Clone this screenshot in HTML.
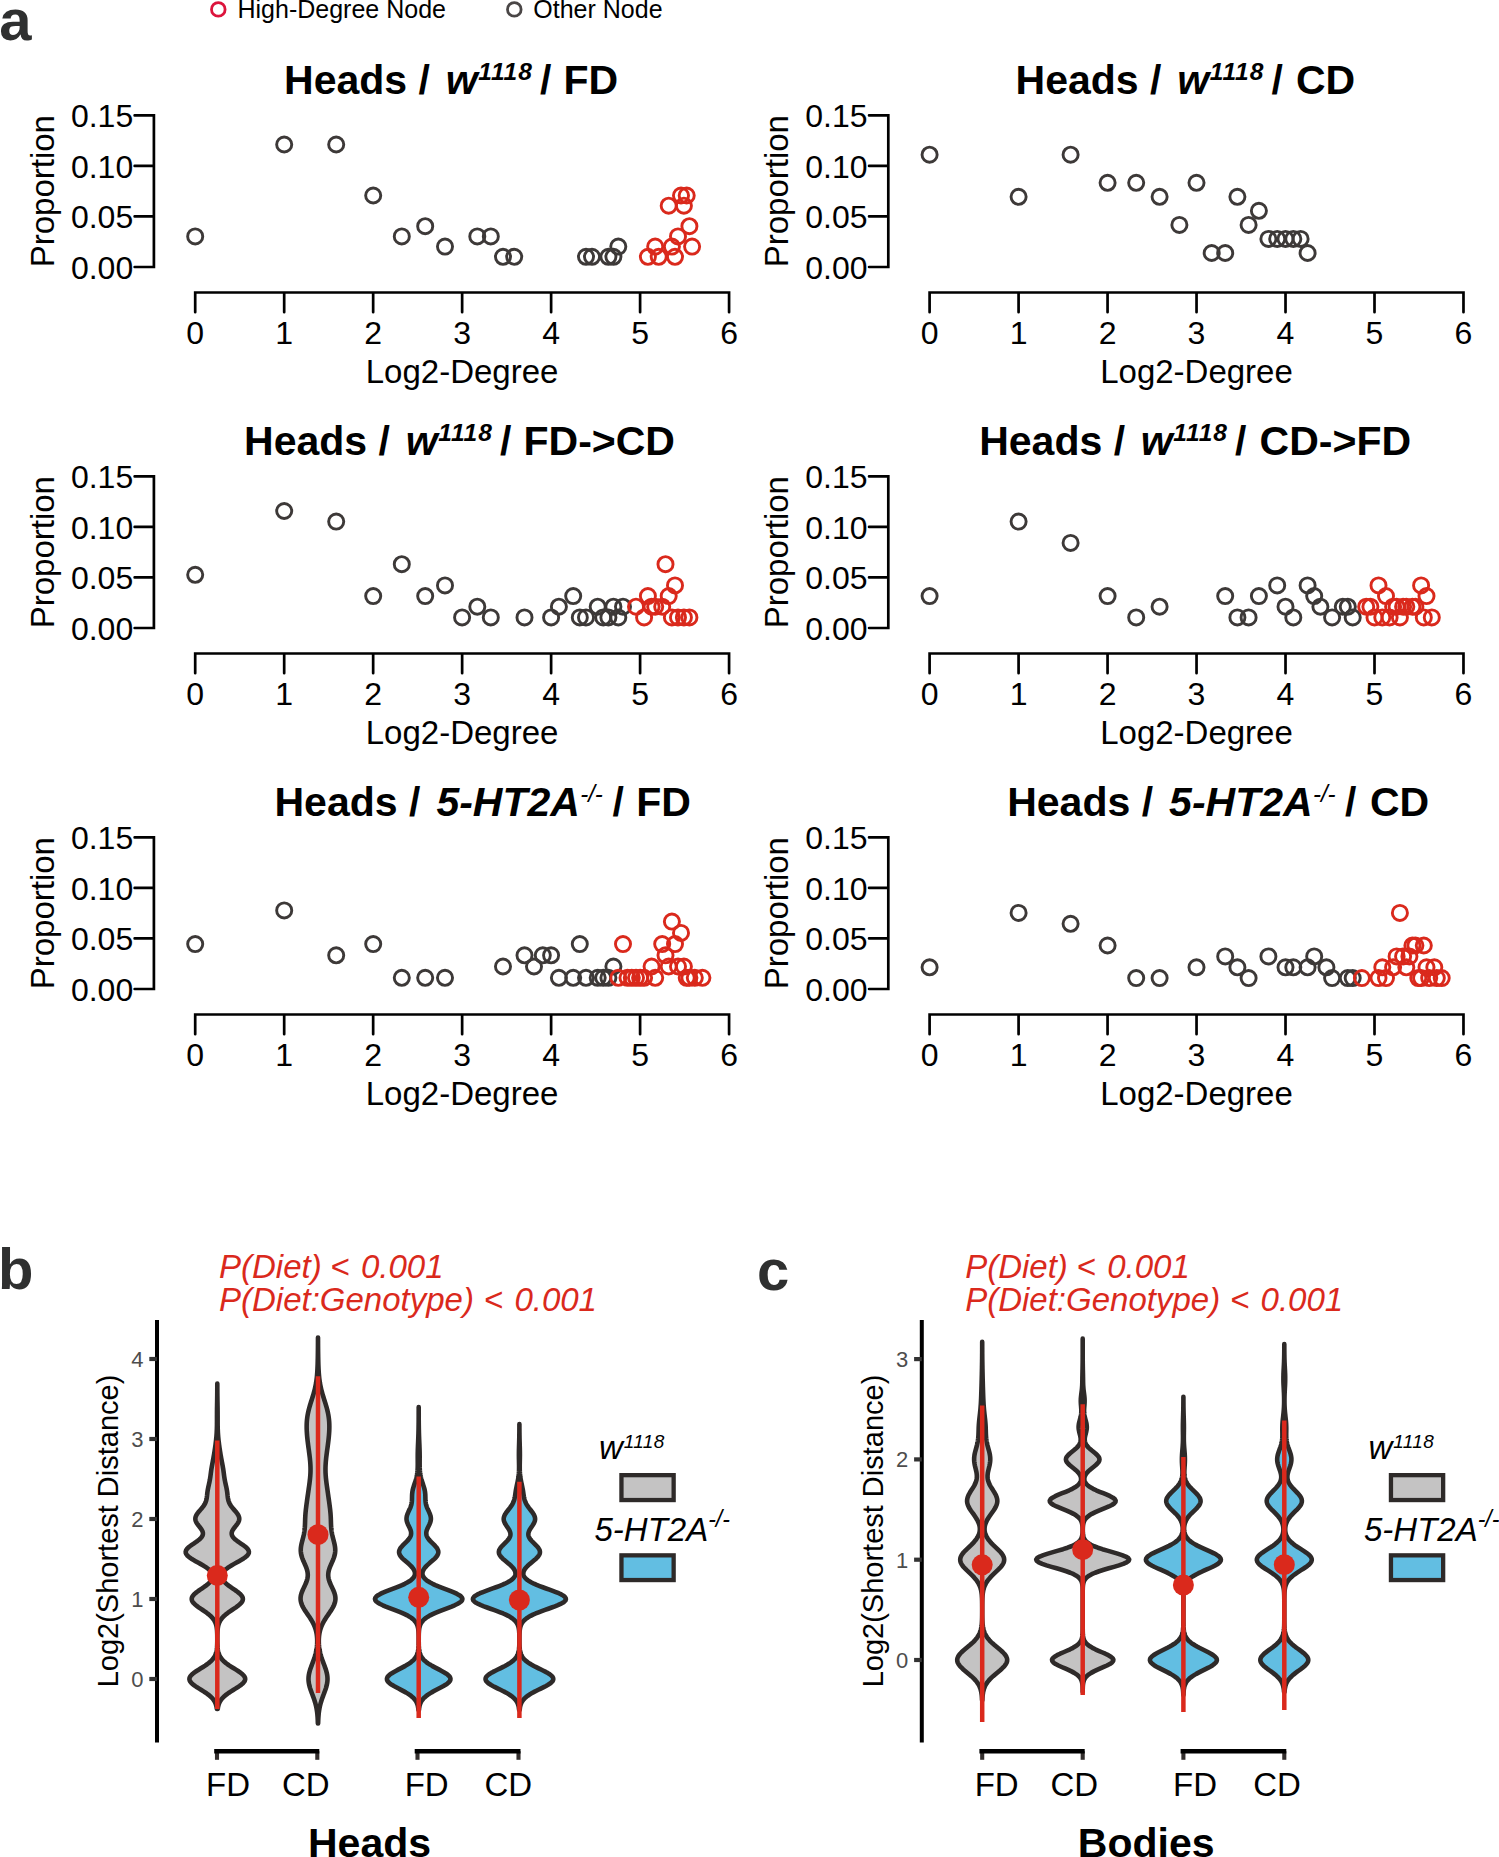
<!DOCTYPE html>
<html><head><meta charset="utf-8"><style>
html,body{margin:0;padding:0;background:#fff;}
svg{display:block;}
</style></head><body>
<svg width="1499" height="1857" viewBox="0 0 1499 1857">
<rect width="1499" height="1857" fill="#fff"/>
<g font-family='"Liberation Sans", sans-serif' fill="#000">
<path d="M134.65,115.40H153.90V267.00H134.65M134.65,216.47H153.90M134.65,165.93H153.90" fill="none" stroke="#000" stroke-width="2.7" stroke-linejoin="miter" stroke-linecap="round"/>
<text x="133.2" y="278.9" text-anchor="end" font-size="32">0.00</text>
<text x="133.2" y="228.4" text-anchor="end" font-size="32">0.05</text>
<text x="133.2" y="177.8" text-anchor="end" font-size="32">0.10</text>
<text x="133.2" y="127.3" text-anchor="end" font-size="32">0.15</text>
<text transform="translate(54.0,191.2) rotate(-90)" text-anchor="middle" font-size="33">Proportion</text>
<path d="M195.20,312.25V292.50H729.08V312.25M284.18,292.50V312.25M373.16,292.50V312.25M462.14,292.50V312.25M551.12,292.50V312.25M640.10,292.50V312.25" fill="none" stroke="#000" stroke-width="2.7" stroke-linejoin="miter" stroke-linecap="round"/>
<text x="195.2" y="344.4" text-anchor="middle" font-size="32">0</text>
<text x="284.2" y="344.4" text-anchor="middle" font-size="32">1</text>
<text x="373.2" y="344.4" text-anchor="middle" font-size="32">2</text>
<text x="462.1" y="344.4" text-anchor="middle" font-size="32">3</text>
<text x="551.1" y="344.4" text-anchor="middle" font-size="32">4</text>
<text x="640.1" y="344.4" text-anchor="middle" font-size="32">5</text>
<text x="729.1" y="344.4" text-anchor="middle" font-size="32">6</text>
<text x="462.1" y="383.0" text-anchor="middle" font-size="33">Log2-Degree</text>
<g fill="none" stroke="#3d3938" stroke-width="2.9"><circle cx="195.2" cy="236.4" r="7.55"/><circle cx="284.2" cy="144.5" r="7.55"/><circle cx="336.2" cy="144.5" r="7.55"/><circle cx="373.2" cy="195.5" r="7.55"/><circle cx="401.8" cy="236.4" r="7.55"/><circle cx="425.2" cy="226.2" r="7.55"/><circle cx="445.0" cy="246.6" r="7.55"/><circle cx="477.3" cy="236.4" r="7.55"/><circle cx="490.8" cy="236.4" r="7.55"/><circle cx="503.0" cy="256.8" r="7.55"/><circle cx="514.2" cy="256.8" r="7.55"/><circle cx="586.0" cy="256.8" r="7.55"/><circle cx="592.0" cy="256.8" r="7.55"/><circle cx="608.4" cy="256.8" r="7.55"/><circle cx="613.4" cy="256.8" r="7.55"/><circle cx="618.3" cy="246.6" r="7.55"/></g>
<g fill="none" stroke="#da291c" stroke-width="2.9"><circle cx="647.9" cy="256.8" r="7.55"/><circle cx="655.2" cy="246.6" r="7.55"/><circle cx="658.7" cy="256.8" r="7.55"/><circle cx="668.7" cy="205.7" r="7.55"/><circle cx="671.9" cy="246.6" r="7.55"/><circle cx="675.0" cy="256.8" r="7.55"/><circle cx="678.0" cy="236.4" r="7.55"/><circle cx="681.0" cy="195.5" r="7.55"/><circle cx="683.9" cy="205.7" r="7.55"/><circle cx="686.7" cy="195.5" r="7.55"/><circle cx="689.4" cy="226.2" r="7.55"/><circle cx="692.1" cy="246.6" r="7.55"/></g>
<path d="M869.05,115.40H888.30V267.00H869.05M869.05,216.47H888.30M869.05,165.93H888.30" fill="none" stroke="#000" stroke-width="2.7" stroke-linejoin="miter" stroke-linecap="round"/>
<text x="867.6" y="278.9" text-anchor="end" font-size="32">0.00</text>
<text x="867.6" y="228.4" text-anchor="end" font-size="32">0.05</text>
<text x="867.6" y="177.8" text-anchor="end" font-size="32">0.10</text>
<text x="867.6" y="127.3" text-anchor="end" font-size="32">0.15</text>
<text transform="translate(788.4,191.2) rotate(-90)" text-anchor="middle" font-size="33">Proportion</text>
<path d="M929.60,312.25V292.50H1463.48V312.25M1018.58,292.50V312.25M1107.56,292.50V312.25M1196.54,292.50V312.25M1285.52,292.50V312.25M1374.50,292.50V312.25" fill="none" stroke="#000" stroke-width="2.7" stroke-linejoin="miter" stroke-linecap="round"/>
<text x="929.6" y="344.4" text-anchor="middle" font-size="32">0</text>
<text x="1018.6" y="344.4" text-anchor="middle" font-size="32">1</text>
<text x="1107.6" y="344.4" text-anchor="middle" font-size="32">2</text>
<text x="1196.5" y="344.4" text-anchor="middle" font-size="32">3</text>
<text x="1285.5" y="344.4" text-anchor="middle" font-size="32">4</text>
<text x="1374.5" y="344.4" text-anchor="middle" font-size="32">5</text>
<text x="1463.5" y="344.4" text-anchor="middle" font-size="32">6</text>
<text x="1196.5" y="383.0" text-anchor="middle" font-size="33">Log2-Degree</text>
<g fill="none" stroke="#3d3938" stroke-width="2.9"><circle cx="929.6" cy="154.7" r="7.55"/><circle cx="1018.6" cy="196.8" r="7.55"/><circle cx="1070.6" cy="154.7" r="7.55"/><circle cx="1107.6" cy="182.8" r="7.55"/><circle cx="1136.2" cy="182.8" r="7.55"/><circle cx="1159.6" cy="196.8" r="7.55"/><circle cx="1179.4" cy="224.9" r="7.55"/><circle cx="1196.5" cy="182.8" r="7.55"/><circle cx="1211.7" cy="253.0" r="7.55"/><circle cx="1225.2" cy="253.0" r="7.55"/><circle cx="1237.4" cy="196.8" r="7.55"/><circle cx="1248.6" cy="224.9" r="7.55"/><circle cx="1258.9" cy="210.8" r="7.55"/><circle cx="1268.4" cy="238.9" r="7.55"/><circle cx="1277.2" cy="238.9" r="7.55"/><circle cx="1285.5" cy="238.9" r="7.55"/><circle cx="1293.3" cy="238.9" r="7.55"/><circle cx="1300.6" cy="238.9" r="7.55"/><circle cx="1307.6" cy="253.0" r="7.55"/></g>
<path d="M134.65,476.39H153.90V628.00H134.65M134.65,577.47H153.90M134.65,526.93H153.90" fill="none" stroke="#000" stroke-width="2.7" stroke-linejoin="miter" stroke-linecap="round"/>
<text x="133.2" y="639.9" text-anchor="end" font-size="32">0.00</text>
<text x="133.2" y="589.4" text-anchor="end" font-size="32">0.05</text>
<text x="133.2" y="538.8" text-anchor="end" font-size="32">0.10</text>
<text x="133.2" y="488.3" text-anchor="end" font-size="32">0.15</text>
<text transform="translate(54.0,552.2) rotate(-90)" text-anchor="middle" font-size="33">Proportion</text>
<path d="M195.20,673.25V653.50H729.08V673.25M284.18,653.50V673.25M373.16,653.50V673.25M462.14,653.50V673.25M551.12,653.50V673.25M640.10,653.50V673.25" fill="none" stroke="#000" stroke-width="2.7" stroke-linejoin="miter" stroke-linecap="round"/>
<text x="195.2" y="705.4" text-anchor="middle" font-size="32">0</text>
<text x="284.2" y="705.4" text-anchor="middle" font-size="32">1</text>
<text x="373.2" y="705.4" text-anchor="middle" font-size="32">2</text>
<text x="462.1" y="705.4" text-anchor="middle" font-size="32">3</text>
<text x="551.1" y="705.4" text-anchor="middle" font-size="32">4</text>
<text x="640.1" y="705.4" text-anchor="middle" font-size="32">5</text>
<text x="729.1" y="705.4" text-anchor="middle" font-size="32">6</text>
<text x="462.1" y="744.0" text-anchor="middle" font-size="33">Log2-Degree</text>
<g fill="none" stroke="#3d3938" stroke-width="2.9"><circle cx="195.2" cy="574.8" r="7.55"/><circle cx="284.2" cy="511.0" r="7.55"/><circle cx="336.2" cy="521.6" r="7.55"/><circle cx="373.2" cy="596.1" r="7.55"/><circle cx="401.8" cy="564.2" r="7.55"/><circle cx="425.2" cy="596.1" r="7.55"/><circle cx="445.0" cy="585.4" r="7.55"/><circle cx="462.1" cy="617.4" r="7.55"/><circle cx="477.3" cy="606.7" r="7.55"/><circle cx="490.8" cy="617.4" r="7.55"/><circle cx="524.5" cy="617.4" r="7.55"/><circle cx="551.1" cy="617.4" r="7.55"/><circle cx="558.9" cy="606.7" r="7.55"/><circle cx="573.2" cy="596.1" r="7.55"/><circle cx="579.8" cy="617.4" r="7.55"/><circle cx="586.0" cy="617.4" r="7.55"/><circle cx="597.7" cy="606.7" r="7.55"/><circle cx="603.2" cy="617.4" r="7.55"/><circle cx="608.4" cy="617.4" r="7.55"/><circle cx="613.4" cy="606.7" r="7.55"/><circle cx="618.3" cy="617.4" r="7.55"/><circle cx="623.0" cy="606.7" r="7.55"/></g>
<g fill="none" stroke="#da291c" stroke-width="2.9"><circle cx="636.0" cy="606.7" r="7.55"/><circle cx="644.1" cy="617.4" r="7.55"/><circle cx="647.9" cy="596.1" r="7.55"/><circle cx="651.6" cy="606.7" r="7.55"/><circle cx="655.2" cy="606.7" r="7.55"/><circle cx="662.2" cy="606.7" r="7.55"/><circle cx="665.5" cy="564.2" r="7.55"/><circle cx="668.7" cy="596.1" r="7.55"/><circle cx="671.9" cy="617.4" r="7.55"/><circle cx="675.0" cy="585.4" r="7.55"/><circle cx="678.0" cy="617.4" r="7.55"/><circle cx="683.9" cy="617.4" r="7.55"/><circle cx="689.4" cy="617.4" r="7.55"/></g>
<path d="M869.05,476.39H888.30V628.00H869.05M869.05,577.47H888.30M869.05,526.93H888.30" fill="none" stroke="#000" stroke-width="2.7" stroke-linejoin="miter" stroke-linecap="round"/>
<text x="867.6" y="639.9" text-anchor="end" font-size="32">0.00</text>
<text x="867.6" y="589.4" text-anchor="end" font-size="32">0.05</text>
<text x="867.6" y="538.8" text-anchor="end" font-size="32">0.10</text>
<text x="867.6" y="488.3" text-anchor="end" font-size="32">0.15</text>
<text transform="translate(788.4,552.2) rotate(-90)" text-anchor="middle" font-size="33">Proportion</text>
<path d="M929.60,673.25V653.50H1463.48V673.25M1018.58,653.50V673.25M1107.56,653.50V673.25M1196.54,653.50V673.25M1285.52,653.50V673.25M1374.50,653.50V673.25" fill="none" stroke="#000" stroke-width="2.7" stroke-linejoin="miter" stroke-linecap="round"/>
<text x="929.6" y="705.4" text-anchor="middle" font-size="32">0</text>
<text x="1018.6" y="705.4" text-anchor="middle" font-size="32">1</text>
<text x="1107.6" y="705.4" text-anchor="middle" font-size="32">2</text>
<text x="1196.5" y="705.4" text-anchor="middle" font-size="32">3</text>
<text x="1285.5" y="705.4" text-anchor="middle" font-size="32">4</text>
<text x="1374.5" y="705.4" text-anchor="middle" font-size="32">5</text>
<text x="1463.5" y="705.4" text-anchor="middle" font-size="32">6</text>
<text x="1196.5" y="744.0" text-anchor="middle" font-size="33">Log2-Degree</text>
<g fill="none" stroke="#3d3938" stroke-width="2.9"><circle cx="929.6" cy="596.1" r="7.55"/><circle cx="1018.6" cy="521.6" r="7.55"/><circle cx="1070.6" cy="542.9" r="7.55"/><circle cx="1107.6" cy="596.1" r="7.55"/><circle cx="1136.2" cy="617.4" r="7.55"/><circle cx="1159.6" cy="606.7" r="7.55"/><circle cx="1225.2" cy="596.1" r="7.55"/><circle cx="1237.4" cy="617.4" r="7.55"/><circle cx="1248.6" cy="617.4" r="7.55"/><circle cx="1258.9" cy="596.1" r="7.55"/><circle cx="1277.2" cy="585.4" r="7.55"/><circle cx="1285.5" cy="606.7" r="7.55"/><circle cx="1293.3" cy="617.4" r="7.55"/><circle cx="1307.6" cy="585.4" r="7.55"/><circle cx="1314.2" cy="596.1" r="7.55"/><circle cx="1320.4" cy="606.7" r="7.55"/><circle cx="1332.1" cy="617.4" r="7.55"/><circle cx="1342.8" cy="606.7" r="7.55"/><circle cx="1347.8" cy="606.7" r="7.55"/><circle cx="1352.7" cy="617.4" r="7.55"/></g>
<g fill="none" stroke="#da291c" stroke-width="2.9"><circle cx="1366.2" cy="606.7" r="7.55"/><circle cx="1370.4" cy="606.7" r="7.55"/><circle cx="1374.5" cy="617.4" r="7.55"/><circle cx="1378.5" cy="585.4" r="7.55"/><circle cx="1382.3" cy="617.4" r="7.55"/><circle cx="1386.0" cy="596.1" r="7.55"/><circle cx="1389.6" cy="617.4" r="7.55"/><circle cx="1393.1" cy="606.7" r="7.55"/><circle cx="1396.6" cy="606.7" r="7.55"/><circle cx="1399.9" cy="617.4" r="7.55"/><circle cx="1403.1" cy="606.7" r="7.55"/><circle cx="1406.3" cy="606.7" r="7.55"/><circle cx="1412.4" cy="606.7" r="7.55"/><circle cx="1415.4" cy="606.7" r="7.55"/><circle cx="1421.1" cy="585.4" r="7.55"/><circle cx="1423.8" cy="617.4" r="7.55"/><circle cx="1426.5" cy="596.1" r="7.55"/><circle cx="1431.8" cy="617.4" r="7.55"/></g>
<path d="M134.65,837.39H153.90V989.00H134.65M134.65,938.47H153.90M134.65,887.93H153.90" fill="none" stroke="#000" stroke-width="2.7" stroke-linejoin="miter" stroke-linecap="round"/>
<text x="133.2" y="1000.9" text-anchor="end" font-size="32">0.00</text>
<text x="133.2" y="950.4" text-anchor="end" font-size="32">0.05</text>
<text x="133.2" y="899.8" text-anchor="end" font-size="32">0.10</text>
<text x="133.2" y="849.3" text-anchor="end" font-size="32">0.15</text>
<text transform="translate(54.0,913.2) rotate(-90)" text-anchor="middle" font-size="33">Proportion</text>
<path d="M195.20,1034.25V1014.50H729.08V1034.25M284.18,1014.50V1034.25M373.16,1014.50V1034.25M462.14,1014.50V1034.25M551.12,1014.50V1034.25M640.10,1014.50V1034.25" fill="none" stroke="#000" stroke-width="2.7" stroke-linejoin="miter" stroke-linecap="round"/>
<text x="195.2" y="1066.4" text-anchor="middle" font-size="32">0</text>
<text x="284.2" y="1066.4" text-anchor="middle" font-size="32">1</text>
<text x="373.2" y="1066.4" text-anchor="middle" font-size="32">2</text>
<text x="462.1" y="1066.4" text-anchor="middle" font-size="32">3</text>
<text x="551.1" y="1066.4" text-anchor="middle" font-size="32">4</text>
<text x="640.1" y="1066.4" text-anchor="middle" font-size="32">5</text>
<text x="729.1" y="1066.4" text-anchor="middle" font-size="32">6</text>
<text x="462.1" y="1105.0" text-anchor="middle" font-size="33">Log2-Degree</text>
<g fill="none" stroke="#3d3938" stroke-width="2.9"><circle cx="195.2" cy="944.1" r="7.55"/><circle cx="284.2" cy="910.4" r="7.55"/><circle cx="336.2" cy="955.3" r="7.55"/><circle cx="373.2" cy="944.1" r="7.55"/><circle cx="401.8" cy="977.8" r="7.55"/><circle cx="425.2" cy="977.8" r="7.55"/><circle cx="445.0" cy="977.8" r="7.55"/><circle cx="503.0" cy="966.5" r="7.55"/><circle cx="524.5" cy="955.3" r="7.55"/><circle cx="534.0" cy="966.5" r="7.55"/><circle cx="542.8" cy="955.3" r="7.55"/><circle cx="551.1" cy="955.3" r="7.55"/><circle cx="558.9" cy="977.8" r="7.55"/><circle cx="573.2" cy="977.8" r="7.55"/><circle cx="579.8" cy="944.1" r="7.55"/><circle cx="586.0" cy="977.8" r="7.55"/><circle cx="597.7" cy="977.8" r="7.55"/><circle cx="603.2" cy="977.8" r="7.55"/><circle cx="608.4" cy="977.8" r="7.55"/><circle cx="613.4" cy="966.5" r="7.55"/></g>
<g fill="none" stroke="#da291c" stroke-width="2.9"><circle cx="618.3" cy="977.8" r="7.55"/><circle cx="623.0" cy="944.1" r="7.55"/><circle cx="627.5" cy="977.8" r="7.55"/><circle cx="631.8" cy="977.8" r="7.55"/><circle cx="636.0" cy="977.8" r="7.55"/><circle cx="640.1" cy="977.8" r="7.55"/><circle cx="644.1" cy="977.8" r="7.55"/><circle cx="651.6" cy="966.5" r="7.55"/><circle cx="655.2" cy="977.8" r="7.55"/><circle cx="662.2" cy="944.1" r="7.55"/><circle cx="665.5" cy="955.3" r="7.55"/><circle cx="668.7" cy="966.5" r="7.55"/><circle cx="671.9" cy="921.6" r="7.55"/><circle cx="675.0" cy="944.1" r="7.55"/><circle cx="678.0" cy="966.5" r="7.55"/><circle cx="681.0" cy="932.9" r="7.55"/><circle cx="683.9" cy="966.5" r="7.55"/><circle cx="686.7" cy="977.8" r="7.55"/><circle cx="689.4" cy="977.8" r="7.55"/><circle cx="694.8" cy="977.8" r="7.55"/><circle cx="702.4" cy="977.8" r="7.55"/></g>
<path d="M869.05,837.39H888.30V989.00H869.05M869.05,938.47H888.30M869.05,887.93H888.30" fill="none" stroke="#000" stroke-width="2.7" stroke-linejoin="miter" stroke-linecap="round"/>
<text x="867.6" y="1000.9" text-anchor="end" font-size="32">0.00</text>
<text x="867.6" y="950.4" text-anchor="end" font-size="32">0.05</text>
<text x="867.6" y="899.8" text-anchor="end" font-size="32">0.10</text>
<text x="867.6" y="849.3" text-anchor="end" font-size="32">0.15</text>
<text transform="translate(788.4,913.2) rotate(-90)" text-anchor="middle" font-size="33">Proportion</text>
<path d="M929.60,1034.25V1014.50H1463.48V1034.25M1018.58,1014.50V1034.25M1107.56,1014.50V1034.25M1196.54,1014.50V1034.25M1285.52,1014.50V1034.25M1374.50,1014.50V1034.25" fill="none" stroke="#000" stroke-width="2.7" stroke-linejoin="miter" stroke-linecap="round"/>
<text x="929.6" y="1066.4" text-anchor="middle" font-size="32">0</text>
<text x="1018.6" y="1066.4" text-anchor="middle" font-size="32">1</text>
<text x="1107.6" y="1066.4" text-anchor="middle" font-size="32">2</text>
<text x="1196.5" y="1066.4" text-anchor="middle" font-size="32">3</text>
<text x="1285.5" y="1066.4" text-anchor="middle" font-size="32">4</text>
<text x="1374.5" y="1066.4" text-anchor="middle" font-size="32">5</text>
<text x="1463.5" y="1066.4" text-anchor="middle" font-size="32">6</text>
<text x="1196.5" y="1105.0" text-anchor="middle" font-size="33">Log2-Degree</text>
<g fill="none" stroke="#3d3938" stroke-width="2.9"><circle cx="929.6" cy="967.3" r="7.55"/><circle cx="1018.6" cy="912.9" r="7.55"/><circle cx="1070.6" cy="923.8" r="7.55"/><circle cx="1107.6" cy="945.5" r="7.55"/><circle cx="1136.2" cy="978.1" r="7.55"/><circle cx="1159.6" cy="978.1" r="7.55"/><circle cx="1196.5" cy="967.3" r="7.55"/><circle cx="1225.2" cy="956.4" r="7.55"/><circle cx="1237.4" cy="967.3" r="7.55"/><circle cx="1248.6" cy="978.1" r="7.55"/><circle cx="1268.4" cy="956.4" r="7.55"/><circle cx="1285.5" cy="967.3" r="7.55"/><circle cx="1293.3" cy="967.3" r="7.55"/><circle cx="1307.6" cy="967.3" r="7.55"/><circle cx="1314.2" cy="956.4" r="7.55"/><circle cx="1326.4" cy="967.3" r="7.55"/><circle cx="1332.1" cy="978.1" r="7.55"/><circle cx="1347.8" cy="978.1" r="7.55"/><circle cx="1352.7" cy="978.1" r="7.55"/></g>
<g fill="none" stroke="#da291c" stroke-width="2.9"><circle cx="1361.9" cy="978.1" r="7.55"/><circle cx="1378.5" cy="978.1" r="7.55"/><circle cx="1382.3" cy="967.3" r="7.55"/><circle cx="1386.0" cy="978.1" r="7.55"/><circle cx="1393.1" cy="967.3" r="7.55"/><circle cx="1396.6" cy="956.4" r="7.55"/><circle cx="1399.9" cy="912.9" r="7.55"/><circle cx="1403.1" cy="956.4" r="7.55"/><circle cx="1406.3" cy="967.3" r="7.55"/><circle cx="1409.4" cy="956.4" r="7.55"/><circle cx="1412.4" cy="945.5" r="7.55"/><circle cx="1415.4" cy="945.5" r="7.55"/><circle cx="1418.3" cy="978.1" r="7.55"/><circle cx="1421.1" cy="978.1" r="7.55"/><circle cx="1423.8" cy="945.5" r="7.55"/><circle cx="1426.5" cy="967.3" r="7.55"/><circle cx="1429.2" cy="978.1" r="7.55"/><circle cx="1434.3" cy="967.3" r="7.55"/><circle cx="1436.8" cy="978.1" r="7.55"/><circle cx="1441.7" cy="978.1" r="7.55"/></g>
<text y="93.8" font-size="41" font-weight="bold"><tspan x="284.1">Heads</tspan><tspan x="418.6">/</tspan><tspan x="445.7" font-style="italic">w</tspan><tspan x="478.2" dy="-14" font-style="italic" font-size="24.5" letter-spacing="0.9">1118</tspan><tspan x="539.9" dy="14">/</tspan><tspan x="563.5">FD</tspan></text>
<text y="93.8" font-size="41" font-weight="bold"><tspan x="1015.6">Heads</tspan><tspan x="1150.1">/</tspan><tspan x="1177.2" font-style="italic">w</tspan><tspan x="1209.7" dy="-14" font-style="italic" font-size="24.5" letter-spacing="0.9">1118</tspan><tspan x="1271.4" dy="14">/</tspan><tspan x="1296.0">CD</tspan></text>
<text y="454.8" font-size="41" font-weight="bold"><tspan x="244.1">Heads</tspan><tspan x="378.6">/</tspan><tspan x="405.7" font-style="italic">w</tspan><tspan x="438.2" dy="-14" font-style="italic" font-size="24.5" letter-spacing="0.9">1118</tspan><tspan x="499.9" dy="14">/</tspan><tspan x="523.5">FD-&gt;CD</tspan></text>
<text y="454.8" font-size="41" font-weight="bold"><tspan x="979.2">Heads</tspan><tspan x="1113.7">/</tspan><tspan x="1140.8" font-style="italic">w</tspan><tspan x="1173.3" dy="-14" font-style="italic" font-size="24.5" letter-spacing="0.9">1118</tspan><tspan x="1235.0" dy="14">/</tspan><tspan x="1259.6">CD-&gt;FD</tspan></text>
<text y="815.8" font-size="41" font-weight="bold"><tspan x="274.5">Heads</tspan><tspan x="409.0">/</tspan><tspan x="436.4" font-style="italic">5-HT2A</tspan><tspan x="580.2" dy="-14" font-style="italic" font-weight="normal" font-size="24">-/-</tspan><tspan x="612.4" dy="14">/</tspan><tspan x="636.3">FD</tspan></text>
<text y="815.8" font-size="41" font-weight="bold"><tspan x="1007.2">Heads</tspan><tspan x="1141.7">/</tspan><tspan x="1169.1" font-style="italic">5-HT2A</tspan><tspan x="1312.9" dy="-14" font-style="italic" font-weight="normal" font-size="24">-/-</tspan><tspan x="1345.1" dy="14">/</tspan><tspan x="1370.0">CD</tspan></text>
<circle cx="218.3" cy="9.4" r="6.8" fill="none" stroke="#dc143c" stroke-width="2.8"/>
<text x="237.5" y="17.8" font-size="25">High-Degree Node</text>
<circle cx="514.3" cy="9.4" r="6.8" fill="none" stroke="#4a4646" stroke-width="2.8"/>
<text x="533.3" y="17.8" font-size="25">Other Node</text>
<text x="-0.8" y="40.2" font-size="58" font-weight="bold" fill="#2f3030">a</text>
<text x="-2" y="1289" font-size="58" font-weight="bold" fill="#2f3030">b</text>
<text x="757" y="1290" font-size="58" font-weight="bold" fill="#2f3030">c</text>
</g>
<g font-family='"Liberation Sans", sans-serif' fill="#000">
<line x1="157.0" y1="1320" x2="157.0" y2="1742.5" stroke="#000" stroke-width="4"/>
<line x1="149.3" y1="1679.0" x2="157.0" y2="1679.0" stroke="#333" stroke-width="4.2"/>
<text x="143.5" y="1687.0" text-anchor="end" font-size="22" fill="#4d4d4d">0</text>
<line x1="149.3" y1="1599.0" x2="157.0" y2="1599.0" stroke="#333" stroke-width="4.2"/>
<text x="143.5" y="1607.0" text-anchor="end" font-size="22" fill="#4d4d4d">1</text>
<line x1="149.3" y1="1519.0" x2="157.0" y2="1519.0" stroke="#333" stroke-width="4.2"/>
<text x="143.5" y="1527.0" text-anchor="end" font-size="22" fill="#4d4d4d">2</text>
<line x1="149.3" y1="1439.0" x2="157.0" y2="1439.0" stroke="#333" stroke-width="4.2"/>
<text x="143.5" y="1447.0" text-anchor="end" font-size="22" fill="#4d4d4d">3</text>
<line x1="149.3" y1="1359.0" x2="157.0" y2="1359.0" stroke="#333" stroke-width="4.2"/>
<text x="143.5" y="1367.0" text-anchor="end" font-size="22" fill="#4d4d4d">4</text>
<text transform="translate(117.7,1531) rotate(-90)" text-anchor="middle" font-size="29">Log2(Shortest Distance)</text>
<path d="M217.30,1383.48 217.29,1384.84 217.29,1386.19 217.29,1387.55 217.28,1388.91 217.27,1390.26 217.27,1391.62 217.26,1392.97 217.24,1394.33 217.23,1395.69 217.21,1397.04 217.19,1398.40 217.17,1399.76 217.15,1401.11 217.12,1402.47 217.10,1403.83 217.08,1405.18 217.05,1406.54 217.03,1407.89 217.01,1409.25 217.00,1410.61 216.99,1411.96 216.98,1413.32 216.98,1414.68 216.97,1416.03 216.97,1417.39 216.97,1418.74 216.97,1420.10 216.97,1421.46 216.96,1422.81 216.95,1424.17 216.94,1425.53 216.91,1426.88 216.87,1428.24 216.83,1429.60 216.77,1430.95 216.71,1432.31 216.63,1433.66 216.54,1435.02 216.43,1436.38 216.31,1437.73 216.18,1439.09 216.04,1440.45 215.88,1441.80 215.71,1443.16 215.54,1444.52 215.35,1445.87 215.16,1447.23 214.96,1448.58 214.76,1449.94 214.55,1451.30 214.33,1452.65 214.11,1454.01 213.89,1455.37 213.65,1456.72 213.41,1458.08 213.16,1459.43 212.91,1460.79 212.65,1462.15 212.39,1463.50 212.13,1464.86 211.88,1466.22 211.65,1467.57 211.42,1468.93 211.22,1470.29 211.03,1471.64 210.84,1473.00 210.67,1474.35 210.49,1475.71 210.30,1477.07 210.09,1478.42 209.87,1479.78 209.61,1481.14 209.34,1482.49 209.04,1483.85 208.74,1485.20 208.43,1486.56 208.14,1487.92 207.88,1489.27 207.64,1490.63 207.44,1491.99 207.27,1493.34 207.12,1494.70 206.98,1496.06 206.81,1497.41 206.59,1498.77 206.30,1500.12 205.89,1501.48 205.35,1502.84 204.66,1504.19 203.83,1505.55 202.85,1506.91 201.76,1508.26 200.61,1509.62 199.43,1510.98 198.29,1512.33 197.27,1513.69 196.41,1515.04 195.77,1516.40 195.40,1517.76 195.32,1519.11 195.54,1520.47 196.04,1521.83 196.79,1523.18 197.72,1524.54 198.78,1525.89 199.87,1527.25 200.91,1528.61 201.81,1529.96 202.49,1531.32 202.87,1532.68 202.92,1534.03 202.59,1535.39 201.87,1536.75 200.77,1538.10 199.34,1539.46 197.63,1540.81 195.73,1542.17 193.73,1543.53 191.74,1544.88 189.88,1546.24 188.26,1547.60 186.96,1548.95 186.09,1550.31 185.69,1551.67 185.79,1553.02 186.41,1554.38 187.52,1555.73 189.06,1557.09 190.97,1558.45 193.15,1559.80 195.52,1561.16 197.98,1562.52 200.43,1563.87 202.79,1565.23 204.99,1566.59 206.98,1567.94 208.71,1569.30 210.15,1570.65 211.28,1572.01 212.10,1573.37 212.60,1574.72 212.78,1576.08 212.66,1577.44 212.22,1578.79 211.50,1580.15 210.49,1581.50 209.21,1582.86 207.70,1584.22 205.99,1585.57 204.13,1586.93 202.16,1588.29 200.17,1589.64 198.23,1591.00 196.41,1592.36 194.79,1593.71 193.46,1595.07 192.47,1596.42 191.87,1597.78 191.70,1599.14 191.96,1600.49 192.64,1601.85 193.71,1603.21 195.11,1604.56 196.78,1605.92 198.65,1607.28 200.63,1608.63 202.65,1609.99 204.64,1611.34 206.55,1612.70 208.32,1614.06 209.93,1615.41 211.35,1616.77 212.58,1618.13 213.62,1619.48 214.48,1620.84 215.17,1622.19 215.72,1623.55 216.15,1624.91 216.48,1626.26 216.72,1627.62 216.90,1628.98 217.03,1630.33 217.12,1631.69 217.18,1633.05 217.22,1634.40 217.25,1635.76 217.26,1637.11 217.27,1638.47 217.27,1639.83 217.26,1641.18 217.24,1642.54 217.20,1643.90 217.15,1645.25 217.08,1646.61 216.97,1647.97 216.82,1649.32 216.62,1650.68 216.33,1652.03 215.95,1653.39 215.46,1654.75 214.83,1656.10 214.03,1657.46 213.06,1658.82 211.88,1660.17 210.50,1661.53 208.90,1662.88 207.11,1664.24 205.14,1665.60 203.04,1666.95 200.85,1668.31 198.65,1669.67 196.51,1671.02 194.52,1672.38 192.76,1673.74 191.30,1675.09 190.23,1676.45 189.58,1677.80 189.40,1679.16 189.70,1680.52 190.44,1681.87 191.61,1683.23 193.15,1684.59 194.97,1685.94 197.01,1687.30 199.17,1688.65 201.37,1690.01 203.54,1691.37 205.62,1692.72 207.55,1694.08 209.30,1695.44 210.84,1696.79 212.18,1698.15 213.31,1699.51 214.24,1700.86 214.99,1702.22 215.59,1703.57 216.05,1704.93 216.41,1706.29 216.67,1707.64 216.86,1709.00 217.74,1709.00 217.93,1707.64 218.19,1706.29 218.55,1704.93 219.01,1703.57 219.61,1702.22 220.36,1700.86 221.29,1699.51 222.42,1698.15 223.76,1696.79 225.30,1695.44 227.05,1694.08 228.98,1692.72 231.06,1691.37 233.23,1690.01 235.43,1688.65 237.59,1687.30 239.63,1685.94 241.45,1684.59 242.99,1683.23 244.16,1681.87 244.90,1680.52 245.20,1679.16 245.02,1677.80 244.37,1676.45 243.30,1675.09 241.84,1673.74 240.08,1672.38 238.09,1671.02 235.95,1669.67 233.75,1668.31 231.56,1666.95 229.46,1665.60 227.49,1664.24 225.70,1662.88 224.10,1661.53 222.72,1660.17 221.54,1658.82 220.57,1657.46 219.77,1656.10 219.14,1654.75 218.65,1653.39 218.27,1652.03 217.98,1650.68 217.78,1649.32 217.63,1647.97 217.52,1646.61 217.45,1645.25 217.40,1643.90 217.36,1642.54 217.34,1641.18 217.33,1639.83 217.33,1638.47 217.34,1637.11 217.35,1635.76 217.38,1634.40 217.42,1633.05 217.48,1631.69 217.57,1630.33 217.70,1628.98 217.88,1627.62 218.12,1626.26 218.45,1624.91 218.88,1623.55 219.43,1622.19 220.12,1620.84 220.98,1619.48 222.02,1618.13 223.25,1616.77 224.67,1615.41 226.28,1614.06 228.05,1612.70 229.96,1611.34 231.95,1609.99 233.97,1608.63 235.95,1607.28 237.82,1605.92 239.49,1604.56 240.89,1603.21 241.96,1601.85 242.64,1600.49 242.90,1599.14 242.73,1597.78 242.13,1596.42 241.14,1595.07 239.81,1593.71 238.19,1592.36 236.37,1591.00 234.43,1589.64 232.44,1588.29 230.47,1586.93 228.61,1585.57 226.90,1584.22 225.39,1582.86 224.11,1581.50 223.10,1580.15 222.38,1578.79 221.94,1577.44 221.82,1576.08 222.00,1574.72 222.50,1573.37 223.32,1572.01 224.45,1570.65 225.89,1569.30 227.62,1567.94 229.61,1566.59 231.81,1565.23 234.17,1563.87 236.62,1562.52 239.08,1561.16 241.45,1559.80 243.63,1558.45 245.54,1557.09 247.08,1555.73 248.19,1554.38 248.81,1553.02 248.91,1551.67 248.51,1550.31 247.64,1548.95 246.34,1547.60 244.72,1546.24 242.86,1544.88 240.87,1543.53 238.87,1542.17 236.97,1540.81 235.26,1539.46 233.83,1538.10 232.73,1536.75 232.01,1535.39 231.68,1534.03 231.73,1532.68 232.11,1531.32 232.79,1529.96 233.69,1528.61 234.73,1527.25 235.82,1525.89 236.88,1524.54 237.81,1523.18 238.56,1521.83 239.06,1520.47 239.28,1519.11 239.20,1517.76 238.83,1516.40 238.19,1515.04 237.33,1513.69 236.31,1512.33 235.17,1510.98 233.99,1509.62 232.84,1508.26 231.75,1506.91 230.77,1505.55 229.94,1504.19 229.25,1502.84 228.71,1501.48 228.30,1500.12 228.01,1498.77 227.79,1497.41 227.62,1496.06 227.48,1494.70 227.33,1493.34 227.16,1491.99 226.96,1490.63 226.72,1489.27 226.46,1487.92 226.17,1486.56 225.86,1485.20 225.56,1483.85 225.26,1482.49 224.99,1481.14 224.73,1479.78 224.51,1478.42 224.30,1477.07 224.11,1475.71 223.93,1474.35 223.76,1473.00 223.57,1471.64 223.38,1470.29 223.18,1468.93 222.95,1467.57 222.72,1466.22 222.47,1464.86 222.21,1463.50 221.95,1462.15 221.69,1460.79 221.44,1459.43 221.19,1458.08 220.95,1456.72 220.71,1455.37 220.49,1454.01 220.27,1452.65 220.05,1451.30 219.84,1449.94 219.64,1448.58 219.44,1447.23 219.25,1445.87 219.06,1444.52 218.89,1443.16 218.72,1441.80 218.56,1440.45 218.42,1439.09 218.29,1437.73 218.17,1436.38 218.06,1435.02 217.97,1433.66 217.89,1432.31 217.83,1430.95 217.77,1429.60 217.73,1428.24 217.69,1426.88 217.66,1425.53 217.65,1424.17 217.64,1422.81 217.63,1421.46 217.63,1420.10 217.63,1418.74 217.63,1417.39 217.63,1416.03 217.62,1414.68 217.62,1413.32 217.61,1411.96 217.60,1410.61 217.59,1409.25 217.57,1407.89 217.55,1406.54 217.52,1405.18 217.50,1403.83 217.48,1402.47 217.45,1401.11 217.43,1399.76 217.41,1398.40 217.39,1397.04 217.37,1395.69 217.36,1394.33 217.34,1392.97 217.33,1391.62 217.33,1390.26 217.32,1388.91 217.31,1387.55 217.31,1386.19 217.31,1384.84 217.30,1383.48Z" fill="#c4c3c3" stroke="#2e2a29" stroke-width="4.6" stroke-linejoin="round"/>
<line x1="217.3" y1="1440.5" x2="217.3" y2="1709.0" stroke="#da291c" stroke-width="4.5"/>
<circle cx="217.3" cy="1575.4" r="10.5" fill="#da291c"/>
<path d="M317.98,1337.48 317.98,1339.09 317.97,1340.70 317.97,1342.31 317.96,1343.91 317.95,1345.52 317.94,1347.13 317.92,1348.74 317.91,1350.35 317.89,1351.95 317.87,1353.56 317.84,1355.17 317.82,1356.78 317.79,1358.39 317.75,1360.00 317.71,1361.61 317.67,1363.21 317.62,1364.82 317.56,1366.43 317.49,1368.04 317.41,1369.65 317.32,1371.26 317.22,1372.86 317.09,1374.47 316.95,1376.08 316.79,1377.69 316.60,1379.30 316.38,1380.90 316.14,1382.51 315.86,1384.12 315.55,1385.73 315.21,1387.34 314.84,1388.95 314.44,1390.56 314.01,1392.16 313.56,1393.77 313.09,1395.38 312.59,1396.99 312.09,1398.60 311.58,1400.20 311.07,1401.81 310.57,1403.42 310.08,1405.03 309.61,1406.64 309.16,1408.25 308.74,1409.86 308.36,1411.46 308.01,1413.07 307.70,1414.68 307.43,1416.29 307.20,1417.90 307.01,1419.51 306.86,1421.11 306.76,1422.72 306.69,1424.33 306.66,1425.94 306.66,1427.55 306.69,1429.15 306.75,1430.76 306.84,1432.37 306.95,1433.98 307.08,1435.59 307.23,1437.20 307.39,1438.81 307.57,1440.41 307.76,1442.02 307.96,1443.63 308.17,1445.24 308.38,1446.85 308.60,1448.45 308.82,1450.06 309.03,1451.67 309.24,1453.28 309.45,1454.89 309.65,1456.50 309.83,1458.11 310.00,1459.71 310.15,1461.32 310.27,1462.93 310.38,1464.54 310.45,1466.15 310.50,1467.76 310.52,1469.36 310.50,1470.97 310.46,1472.58 310.38,1474.19 310.27,1475.80 310.14,1477.40 309.98,1479.01 309.80,1480.62 309.61,1482.23 309.40,1483.84 309.18,1485.45 308.96,1487.06 308.73,1488.66 308.50,1490.27 308.27,1491.88 308.04,1493.49 307.81,1495.10 307.58,1496.70 307.36,1498.31 307.13,1499.92 306.91,1501.53 306.69,1503.14 306.47,1504.75 306.26,1506.36 306.06,1507.96 305.87,1509.57 305.70,1511.18 305.55,1512.79 305.42,1514.40 305.31,1516.01 305.23,1517.61 305.16,1519.22 305.11,1520.83 305.06,1522.44 305.00,1524.05 304.93,1525.65 304.83,1527.26 304.69,1528.87 304.51,1530.48 304.28,1532.09 304.00,1533.70 303.67,1535.31 303.29,1536.91 302.88,1538.52 302.46,1540.13 302.04,1541.74 301.65,1543.35 301.30,1544.95 301.02,1546.56 300.83,1548.17 300.74,1549.78 300.78,1551.39 300.94,1553.00 301.22,1554.61 301.63,1556.21 302.15,1557.82 302.75,1559.43 303.42,1561.04 304.14,1562.65 304.86,1564.26 305.56,1565.86 306.21,1567.47 306.77,1569.08 307.23,1570.69 307.56,1572.30 307.75,1573.90 307.78,1575.51 307.65,1577.12 307.37,1578.73 306.95,1580.34 306.41,1581.95 305.76,1583.56 305.03,1585.16 304.27,1586.77 303.50,1588.38 302.76,1589.99 302.07,1591.60 301.49,1593.20 301.03,1594.81 300.71,1596.42 300.56,1598.03 300.59,1599.64 300.80,1601.25 301.19,1602.86 301.74,1604.46 302.44,1606.07 303.28,1607.68 304.23,1609.29 305.25,1610.90 306.34,1612.51 307.44,1614.11 308.55,1615.72 309.63,1617.33 310.68,1618.94 311.66,1620.55 312.57,1622.15 313.40,1623.76 314.14,1625.37 314.79,1626.98 315.36,1628.59 315.84,1630.20 316.24,1631.81 316.56,1633.41 316.81,1635.02 317.00,1636.63 317.12,1638.24 317.19,1639.85 317.20,1641.45 317.16,1643.06 317.07,1644.67 316.93,1646.28 316.73,1647.89 316.49,1649.50 316.19,1651.11 315.84,1652.71 315.43,1654.32 314.98,1655.93 314.48,1657.54 313.94,1659.15 313.37,1660.76 312.78,1662.36 312.17,1663.97 311.57,1665.58 310.98,1667.19 310.42,1668.80 309.90,1670.40 309.45,1672.01 309.08,1673.62 308.79,1675.23 308.60,1676.84 308.51,1678.45 308.52,1680.06 308.64,1681.66 308.87,1683.27 309.18,1684.88 309.59,1686.49 310.06,1688.10 310.59,1689.70 311.16,1691.31 311.75,1692.92 312.36,1694.53 312.97,1696.14 313.56,1697.75 314.12,1699.36 314.66,1700.96 315.15,1702.57 315.59,1704.18 315.99,1705.79 316.34,1707.40 316.65,1709.01 316.91,1710.61 317.13,1712.22 317.31,1713.83 317.46,1715.44 317.59,1717.05 317.68,1718.65 317.76,1720.26 317.82,1721.87 317.87,1723.48 318.13,1723.48 318.18,1721.87 318.24,1720.26 318.32,1718.65 318.41,1717.05 318.54,1715.44 318.69,1713.83 318.87,1712.22 319.09,1710.61 319.35,1709.01 319.66,1707.40 320.01,1705.79 320.41,1704.18 320.85,1702.57 321.34,1700.96 321.88,1699.36 322.44,1697.75 323.03,1696.14 323.64,1694.53 324.25,1692.92 324.84,1691.31 325.41,1689.70 325.94,1688.10 326.41,1686.49 326.82,1684.88 327.13,1683.27 327.36,1681.66 327.48,1680.06 327.49,1678.45 327.40,1676.84 327.21,1675.23 326.92,1673.62 326.55,1672.01 326.10,1670.40 325.58,1668.80 325.02,1667.19 324.43,1665.58 323.83,1663.97 323.22,1662.36 322.63,1660.76 322.06,1659.15 321.52,1657.54 321.02,1655.93 320.57,1654.32 320.16,1652.71 319.81,1651.11 319.51,1649.50 319.27,1647.89 319.07,1646.28 318.93,1644.67 318.84,1643.06 318.80,1641.45 318.81,1639.85 318.88,1638.24 319.00,1636.63 319.19,1635.02 319.44,1633.41 319.76,1631.81 320.16,1630.20 320.64,1628.59 321.21,1626.98 321.86,1625.37 322.60,1623.76 323.43,1622.15 324.34,1620.55 325.32,1618.94 326.37,1617.33 327.45,1615.72 328.56,1614.11 329.66,1612.51 330.75,1610.90 331.77,1609.29 332.72,1607.68 333.56,1606.07 334.26,1604.46 334.81,1602.86 335.20,1601.25 335.41,1599.64 335.44,1598.03 335.29,1596.42 334.97,1594.81 334.51,1593.20 333.93,1591.60 333.24,1589.99 332.50,1588.38 331.73,1586.77 330.97,1585.16 330.24,1583.56 329.59,1581.95 329.05,1580.34 328.63,1578.73 328.35,1577.12 328.22,1575.51 328.25,1573.90 328.44,1572.30 328.77,1570.69 329.23,1569.08 329.79,1567.47 330.44,1565.86 331.14,1564.26 331.86,1562.65 332.58,1561.04 333.25,1559.43 333.85,1557.82 334.37,1556.21 334.78,1554.61 335.06,1553.00 335.22,1551.39 335.26,1549.78 335.17,1548.17 334.98,1546.56 334.70,1544.95 334.35,1543.35 333.96,1541.74 333.54,1540.13 333.12,1538.52 332.71,1536.91 332.33,1535.31 332.00,1533.70 331.72,1532.09 331.49,1530.48 331.31,1528.87 331.17,1527.26 331.07,1525.65 331.00,1524.05 330.94,1522.44 330.89,1520.83 330.84,1519.22 330.77,1517.61 330.69,1516.01 330.58,1514.40 330.45,1512.79 330.30,1511.18 330.13,1509.57 329.94,1507.96 329.74,1506.36 329.53,1504.75 329.31,1503.14 329.09,1501.53 328.87,1499.92 328.64,1498.31 328.42,1496.70 328.19,1495.10 327.96,1493.49 327.73,1491.88 327.50,1490.27 327.27,1488.66 327.04,1487.06 326.82,1485.45 326.60,1483.84 326.39,1482.23 326.20,1480.62 326.02,1479.01 325.86,1477.40 325.73,1475.80 325.62,1474.19 325.54,1472.58 325.50,1470.97 325.48,1469.36 325.50,1467.76 325.55,1466.15 325.62,1464.54 325.73,1462.93 325.85,1461.32 326.00,1459.71 326.17,1458.11 326.35,1456.50 326.55,1454.89 326.76,1453.28 326.97,1451.67 327.18,1450.06 327.40,1448.45 327.62,1446.85 327.83,1445.24 328.04,1443.63 328.24,1442.02 328.43,1440.41 328.61,1438.81 328.77,1437.20 328.92,1435.59 329.05,1433.98 329.16,1432.37 329.25,1430.76 329.31,1429.15 329.34,1427.55 329.34,1425.94 329.31,1424.33 329.24,1422.72 329.14,1421.11 328.99,1419.51 328.80,1417.90 328.57,1416.29 328.30,1414.68 327.99,1413.07 327.64,1411.46 327.26,1409.86 326.84,1408.25 326.39,1406.64 325.92,1405.03 325.43,1403.42 324.93,1401.81 324.42,1400.20 323.91,1398.60 323.41,1396.99 322.91,1395.38 322.44,1393.77 321.99,1392.16 321.56,1390.56 321.16,1388.95 320.79,1387.34 320.45,1385.73 320.14,1384.12 319.86,1382.51 319.62,1380.90 319.40,1379.30 319.21,1377.69 319.05,1376.08 318.91,1374.47 318.78,1372.86 318.68,1371.26 318.59,1369.65 318.51,1368.04 318.44,1366.43 318.38,1364.82 318.33,1363.21 318.29,1361.61 318.25,1360.00 318.21,1358.39 318.18,1356.78 318.16,1355.17 318.13,1353.56 318.11,1351.95 318.09,1350.35 318.08,1348.74 318.06,1347.13 318.05,1345.52 318.04,1343.91 318.03,1342.31 318.03,1340.70 318.02,1339.09 318.02,1337.48Z" fill="#c4c3c3" stroke="#2e2a29" stroke-width="4.6" stroke-linejoin="round"/>
<line x1="318.0" y1="1376.3" x2="318.0" y2="1693.0" stroke="#da291c" stroke-width="4.5"/>
<circle cx="318.0" cy="1534.7" r="10.5" fill="#da291c"/>
<path d="M418.70,1407.08 418.70,1408.34 418.70,1409.60 418.70,1410.87 418.69,1412.13 418.69,1413.39 418.69,1414.65 418.69,1415.92 418.68,1417.18 418.67,1418.44 418.67,1419.70 418.66,1420.97 418.65,1422.23 418.63,1423.49 418.62,1424.75 418.60,1426.01 418.58,1427.28 418.56,1428.54 418.53,1429.80 418.50,1431.06 418.47,1432.33 418.44,1433.59 418.40,1434.85 418.36,1436.11 418.31,1437.38 418.27,1438.64 418.22,1439.90 418.17,1441.16 418.12,1442.43 418.06,1443.69 418.01,1444.95 417.96,1446.21 417.91,1447.47 417.86,1448.74 417.82,1450.00 417.79,1451.26 417.76,1452.52 417.74,1453.79 417.73,1455.05 417.72,1456.31 417.72,1457.57 417.73,1458.84 417.73,1460.10 417.74,1461.36 417.75,1462.62 417.75,1463.88 417.74,1465.15 417.72,1466.41 417.69,1467.67 417.63,1468.93 417.56,1470.20 417.45,1471.46 417.32,1472.72 417.15,1473.98 416.94,1475.25 416.69,1476.51 416.41,1477.77 416.08,1479.03 415.71,1480.30 415.32,1481.56 414.90,1482.82 414.47,1484.08 414.05,1485.34 413.64,1486.61 413.26,1487.87 412.93,1489.13 412.64,1490.39 412.42,1491.66 412.25,1492.92 412.13,1494.18 412.07,1495.44 412.03,1496.71 412.01,1497.97 411.98,1499.23 411.93,1500.49 411.83,1501.76 411.66,1503.02 411.41,1504.28 411.07,1505.54 410.65,1506.80 410.15,1508.07 409.60,1509.33 409.01,1510.59 408.41,1511.85 407.85,1513.12 407.35,1514.38 406.94,1515.64 406.65,1516.90 406.51,1518.17 406.52,1519.43 406.69,1520.69 407.01,1521.95 407.45,1523.21 407.99,1524.48 408.60,1525.74 409.22,1527.00 409.82,1528.26 410.36,1529.53 410.78,1530.79 411.05,1532.05 411.13,1533.31 411.02,1534.58 410.68,1535.84 410.12,1537.10 409.35,1538.36 408.40,1539.62 407.28,1540.89 406.06,1542.15 404.78,1543.41 403.50,1544.67 402.28,1545.94 401.18,1547.20 400.27,1548.46 399.59,1549.72 399.17,1550.99 399.05,1552.25 399.23,1553.51 399.71,1554.77 400.47,1556.04 401.47,1557.30 402.67,1558.56 404.01,1559.82 405.45,1561.08 406.93,1562.35 408.39,1563.61 409.79,1564.87 411.08,1566.13 412.22,1567.40 413.20,1568.66 413.98,1569.92 414.55,1571.18 414.89,1572.45 414.97,1573.71 414.80,1574.97 414.33,1576.23 413.57,1577.49 412.49,1578.76 411.08,1580.02 409.32,1581.28 407.22,1582.54 404.79,1583.81 402.05,1585.07 399.05,1586.33 395.86,1587.59 392.55,1588.86 389.23,1590.12 386.00,1591.38 382.99,1592.64 380.32,1593.91 378.09,1595.17 376.42,1596.43 375.37,1597.69 375.00,1598.95 375.32,1600.22 376.32,1601.48 377.95,1602.74 380.14,1604.00 382.79,1605.27 385.78,1606.53 389.01,1607.79 392.34,1609.05 395.66,1610.32 398.89,1611.58 401.93,1612.84 404.73,1614.10 407.25,1615.37 409.46,1616.63 411.36,1617.89 412.96,1619.15 414.29,1620.41 415.36,1621.68 416.21,1622.94 416.87,1624.20 417.38,1625.46 417.76,1626.73 418.05,1627.99 418.25,1629.25 418.39,1630.51 418.50,1631.78 418.57,1633.04 418.61,1634.30 418.64,1635.56 418.66,1636.82 418.67,1638.09 418.67,1639.35 418.67,1640.61 418.66,1641.87 418.65,1643.14 418.62,1644.40 418.58,1645.66 418.51,1646.92 418.42,1648.19 418.30,1649.45 418.12,1650.71 417.88,1651.97 417.55,1653.23 417.12,1654.50 416.56,1655.76 415.86,1657.02 414.98,1658.28 413.91,1659.55 412.62,1660.81 411.11,1662.07 409.38,1663.33 407.43,1664.60 405.29,1665.86 403.00,1667.12 400.60,1668.38 398.17,1669.65 395.78,1670.91 393.52,1672.17 391.47,1673.43 389.71,1674.69 388.34,1675.96 387.40,1677.22 386.94,1678.48 386.99,1679.74 387.53,1681.01 388.55,1682.27 390.00,1683.53 391.81,1684.79 393.91,1686.06 396.20,1687.32 398.60,1688.58 401.03,1689.84 403.42,1691.11 405.69,1692.37 407.79,1693.63 409.70,1694.89 411.40,1696.15 412.87,1697.42 414.11,1698.68 415.15,1699.94 416.00,1701.20 416.67,1702.47 417.21,1703.73 417.61,1704.99 417.92,1706.25 418.15,1707.52 418.32,1708.78 418.44,1710.04 418.96,1710.04 419.08,1708.78 419.25,1707.52 419.48,1706.25 419.79,1704.99 420.19,1703.73 420.73,1702.47 421.40,1701.20 422.25,1699.94 423.29,1698.68 424.53,1697.42 426.00,1696.15 427.70,1694.89 429.61,1693.63 431.71,1692.37 433.98,1691.11 436.37,1689.84 438.80,1688.58 441.20,1687.32 443.49,1686.06 445.59,1684.79 447.40,1683.53 448.85,1682.27 449.87,1681.01 450.41,1679.74 450.46,1678.48 450.00,1677.22 449.06,1675.96 447.69,1674.69 445.93,1673.43 443.88,1672.17 441.62,1670.91 439.23,1669.65 436.80,1668.38 434.40,1667.12 432.11,1665.86 429.97,1664.60 428.02,1663.33 426.29,1662.07 424.78,1660.81 423.49,1659.55 422.42,1658.28 421.54,1657.02 420.84,1655.76 420.28,1654.50 419.85,1653.23 419.52,1651.97 419.28,1650.71 419.10,1649.45 418.98,1648.19 418.89,1646.92 418.82,1645.66 418.78,1644.40 418.75,1643.14 418.74,1641.87 418.73,1640.61 418.73,1639.35 418.73,1638.09 418.74,1636.82 418.76,1635.56 418.79,1634.30 418.83,1633.04 418.90,1631.78 419.01,1630.51 419.15,1629.25 419.35,1627.99 419.64,1626.73 420.02,1625.46 420.53,1624.20 421.19,1622.94 422.04,1621.68 423.11,1620.41 424.44,1619.15 426.04,1617.89 427.94,1616.63 430.15,1615.37 432.67,1614.10 435.47,1612.84 438.51,1611.58 441.74,1610.32 445.06,1609.05 448.39,1607.79 451.62,1606.53 454.61,1605.27 457.26,1604.00 459.45,1602.74 461.08,1601.48 462.08,1600.22 462.40,1598.95 462.03,1597.69 460.98,1596.43 459.31,1595.17 457.08,1593.91 454.41,1592.64 451.40,1591.38 448.17,1590.12 444.85,1588.86 441.54,1587.59 438.35,1586.33 435.35,1585.07 432.61,1583.81 430.18,1582.54 428.08,1581.28 426.32,1580.02 424.91,1578.76 423.83,1577.49 423.07,1576.23 422.60,1574.97 422.43,1573.71 422.51,1572.45 422.85,1571.18 423.42,1569.92 424.20,1568.66 425.18,1567.40 426.32,1566.13 427.61,1564.87 429.01,1563.61 430.47,1562.35 431.95,1561.08 433.39,1559.82 434.73,1558.56 435.93,1557.30 436.93,1556.04 437.69,1554.77 438.17,1553.51 438.35,1552.25 438.23,1550.99 437.81,1549.72 437.13,1548.46 436.22,1547.20 435.12,1545.94 433.90,1544.67 432.62,1543.41 431.34,1542.15 430.12,1540.89 429.00,1539.62 428.05,1538.36 427.28,1537.10 426.72,1535.84 426.38,1534.58 426.27,1533.31 426.35,1532.05 426.62,1530.79 427.04,1529.53 427.58,1528.26 428.18,1527.00 428.80,1525.74 429.41,1524.48 429.95,1523.21 430.39,1521.95 430.71,1520.69 430.88,1519.43 430.89,1518.17 430.75,1516.90 430.46,1515.64 430.05,1514.38 429.55,1513.12 428.99,1511.85 428.39,1510.59 427.80,1509.33 427.25,1508.07 426.75,1506.80 426.33,1505.54 425.99,1504.28 425.74,1503.02 425.57,1501.76 425.47,1500.49 425.42,1499.23 425.39,1497.97 425.37,1496.71 425.33,1495.44 425.27,1494.18 425.15,1492.92 424.98,1491.66 424.76,1490.39 424.47,1489.13 424.14,1487.87 423.76,1486.61 423.35,1485.34 422.93,1484.08 422.50,1482.82 422.08,1481.56 421.69,1480.30 421.32,1479.03 420.99,1477.77 420.71,1476.51 420.46,1475.25 420.25,1473.98 420.08,1472.72 419.95,1471.46 419.84,1470.20 419.77,1468.93 419.71,1467.67 419.68,1466.41 419.66,1465.15 419.65,1463.88 419.65,1462.62 419.66,1461.36 419.67,1460.10 419.67,1458.84 419.68,1457.57 419.68,1456.31 419.67,1455.05 419.66,1453.79 419.64,1452.52 419.61,1451.26 419.58,1450.00 419.54,1448.74 419.49,1447.47 419.44,1446.21 419.39,1444.95 419.34,1443.69 419.28,1442.43 419.23,1441.16 419.18,1439.90 419.13,1438.64 419.09,1437.38 419.04,1436.11 419.00,1434.85 418.96,1433.59 418.93,1432.33 418.90,1431.06 418.87,1429.80 418.84,1428.54 418.82,1427.28 418.80,1426.01 418.78,1424.75 418.77,1423.49 418.75,1422.23 418.74,1420.97 418.73,1419.70 418.73,1418.44 418.72,1417.18 418.71,1415.92 418.71,1414.65 418.71,1413.39 418.71,1412.13 418.70,1410.87 418.70,1409.60 418.70,1408.34 418.70,1407.08Z" fill="#62bee2" stroke="#2e2a29" stroke-width="4.6" stroke-linejoin="round"/>
<line x1="418.7" y1="1476.4" x2="418.7" y2="1718.0" stroke="#da291c" stroke-width="4.5"/>
<circle cx="418.7" cy="1597.3" r="10.5" fill="#da291c"/>
<path d="M519.40,1423.96 519.39,1425.15 519.39,1426.34 519.39,1427.54 519.38,1428.73 519.38,1429.92 519.37,1431.11 519.36,1432.30 519.34,1433.50 519.33,1434.69 519.31,1435.88 519.29,1437.07 519.26,1438.26 519.24,1439.46 519.21,1440.65 519.17,1441.84 519.14,1443.03 519.10,1444.22 519.07,1445.42 519.03,1446.61 519.00,1447.80 518.97,1448.99 518.94,1450.18 518.92,1451.38 518.91,1452.57 518.90,1453.76 518.90,1454.95 518.90,1456.14 518.92,1457.34 518.93,1458.53 518.95,1459.72 518.98,1460.91 519.00,1462.10 519.02,1463.30 519.04,1464.49 519.06,1465.68 519.06,1466.87 519.06,1468.06 519.04,1469.26 519.01,1470.45 518.96,1471.64 518.88,1472.83 518.79,1474.02 518.67,1475.22 518.53,1476.41 518.36,1477.60 518.17,1478.79 517.96,1479.98 517.73,1481.18 517.49,1482.37 517.24,1483.56 516.98,1484.75 516.73,1485.94 516.48,1487.14 516.25,1488.33 516.03,1489.52 515.82,1490.71 515.64,1491.90 515.46,1493.10 515.29,1494.29 515.11,1495.48 514.91,1496.67 514.68,1497.86 514.41,1499.06 514.07,1500.25 513.65,1501.44 513.15,1502.63 512.56,1503.82 511.87,1505.02 511.09,1506.21 510.24,1507.40 509.33,1508.59 508.39,1509.78 507.46,1510.98 506.55,1512.17 505.72,1513.36 504.99,1514.55 504.40,1515.74 503.98,1516.94 503.74,1518.13 503.70,1519.32 503.86,1520.51 504.20,1521.70 504.71,1522.90 505.36,1524.09 506.11,1525.28 506.91,1526.47 507.73,1527.66 508.51,1528.86 509.22,1530.05 509.79,1531.24 510.21,1532.43 510.43,1533.62 510.44,1534.82 510.23,1536.01 509.79,1537.20 509.14,1538.39 508.29,1539.58 507.28,1540.78 506.15,1541.97 504.94,1543.16 503.71,1544.35 502.52,1545.54 501.41,1546.74 500.45,1547.93 499.69,1549.12 499.15,1550.31 498.87,1551.50 498.87,1552.70 499.15,1553.89 499.70,1555.08 500.51,1556.27 501.53,1557.46 502.73,1558.66 504.07,1559.85 505.49,1561.04 506.95,1562.23 508.39,1563.42 509.79,1564.62 511.09,1565.81 512.26,1567.00 513.29,1568.19 514.14,1569.38 514.79,1570.58 515.24,1571.77 515.46,1572.96 515.43,1574.15 515.16,1575.34 514.61,1576.54 513.77,1577.73 512.63,1578.92 511.17,1580.11 509.39,1581.30 507.28,1582.50 504.86,1583.69 502.14,1584.88 499.17,1586.07 496.00,1587.26 492.70,1588.46 489.35,1589.65 486.06,1590.84 482.92,1592.03 480.04,1593.22 477.53,1594.42 475.50,1595.61 474.01,1596.80 473.14,1597.99 472.91,1599.18 473.34,1600.38 474.41,1601.57 476.07,1602.76 478.27,1603.95 480.90,1605.14 483.87,1606.34 487.08,1607.53 490.41,1608.72 493.76,1609.91 497.05,1611.10 500.19,1612.30 503.12,1613.49 505.80,1614.68 508.20,1615.87 510.30,1617.06 512.12,1618.26 513.65,1619.45 514.93,1620.64 515.97,1621.83 516.80,1623.02 517.46,1624.22 517.98,1625.41 518.37,1626.60 518.66,1627.79 518.88,1628.98 519.04,1630.18 519.15,1631.37 519.23,1632.56 519.29,1633.75 519.33,1634.94 519.35,1636.14 519.36,1637.33 519.37,1638.52 519.37,1639.71 519.37,1640.90 519.36,1642.10 519.34,1643.29 519.31,1644.48 519.27,1645.67 519.21,1646.86 519.12,1648.06 518.99,1649.25 518.83,1650.44 518.60,1651.63 518.30,1652.82 517.90,1654.02 517.40,1655.21 516.76,1656.40 515.97,1657.59 515.01,1658.78 513.85,1659.98 512.49,1661.17 510.91,1662.36 509.12,1663.55 507.13,1664.74 504.96,1665.94 502.65,1667.13 500.23,1668.32 497.79,1669.51 495.37,1670.70 493.06,1671.90 490.94,1673.09 489.07,1674.28 487.55,1675.47 486.41,1676.66 485.72,1677.86 485.50,1679.05 485.76,1680.24 486.49,1681.43 487.65,1682.62 489.21,1683.82 491.10,1685.01 493.24,1686.20 495.56,1687.39 497.98,1688.58 500.43,1689.78 502.84,1690.97 505.14,1692.16 507.30,1693.35 509.27,1694.54 511.04,1695.74 512.60,1696.93 513.95,1698.12 515.09,1699.31 516.04,1700.50 516.82,1701.70 517.45,1702.89 517.94,1704.08 518.32,1705.27 518.62,1706.46 518.84,1707.66 519.01,1708.85 519.13,1710.04 519.67,1710.04 519.79,1708.85 519.96,1707.66 520.18,1706.46 520.48,1705.27 520.86,1704.08 521.35,1702.89 521.98,1701.70 522.76,1700.50 523.71,1699.31 524.85,1698.12 526.20,1696.93 527.76,1695.74 529.53,1694.54 531.50,1693.35 533.66,1692.16 535.96,1690.97 538.37,1689.78 540.82,1688.58 543.24,1687.39 545.56,1686.20 547.70,1685.01 549.59,1683.82 551.15,1682.62 552.31,1681.43 553.04,1680.24 553.30,1679.05 553.08,1677.86 552.39,1676.66 551.25,1675.47 549.73,1674.28 547.86,1673.09 545.74,1671.90 543.43,1670.70 541.01,1669.51 538.57,1668.32 536.15,1667.13 533.84,1665.94 531.67,1664.74 529.68,1663.55 527.89,1662.36 526.31,1661.17 524.95,1659.98 523.79,1658.78 522.83,1657.59 522.04,1656.40 521.40,1655.21 520.90,1654.02 520.50,1652.82 520.20,1651.63 519.97,1650.44 519.81,1649.25 519.68,1648.06 519.59,1646.86 519.53,1645.67 519.49,1644.48 519.46,1643.29 519.44,1642.10 519.43,1640.90 519.43,1639.71 519.43,1638.52 519.44,1637.33 519.45,1636.14 519.47,1634.94 519.51,1633.75 519.57,1632.56 519.65,1631.37 519.76,1630.18 519.92,1628.98 520.14,1627.79 520.43,1626.60 520.82,1625.41 521.34,1624.22 522.00,1623.02 522.83,1621.83 523.87,1620.64 525.15,1619.45 526.68,1618.26 528.50,1617.06 530.60,1615.87 533.00,1614.68 535.68,1613.49 538.61,1612.30 541.75,1611.10 545.04,1609.91 548.39,1608.72 551.72,1607.53 554.93,1606.34 557.90,1605.14 560.53,1603.95 562.73,1602.76 564.39,1601.57 565.46,1600.38 565.89,1599.18 565.66,1597.99 564.79,1596.80 563.30,1595.61 561.27,1594.42 558.76,1593.22 555.88,1592.03 552.74,1590.84 549.45,1589.65 546.10,1588.46 542.80,1587.26 539.63,1586.07 536.66,1584.88 533.94,1583.69 531.52,1582.50 529.41,1581.30 527.63,1580.11 526.17,1578.92 525.03,1577.73 524.19,1576.54 523.64,1575.34 523.37,1574.15 523.34,1572.96 523.56,1571.77 524.01,1570.58 524.66,1569.38 525.51,1568.19 526.54,1567.00 527.71,1565.81 529.01,1564.62 530.41,1563.42 531.85,1562.23 533.31,1561.04 534.73,1559.85 536.07,1558.66 537.27,1557.46 538.29,1556.27 539.10,1555.08 539.65,1553.89 539.93,1552.70 539.93,1551.50 539.65,1550.31 539.11,1549.12 538.35,1547.93 537.39,1546.74 536.28,1545.54 535.09,1544.35 533.86,1543.16 532.65,1541.97 531.52,1540.78 530.51,1539.58 529.66,1538.39 529.01,1537.20 528.57,1536.01 528.36,1534.82 528.37,1533.62 528.59,1532.43 529.01,1531.24 529.58,1530.05 530.29,1528.86 531.07,1527.66 531.89,1526.47 532.69,1525.28 533.44,1524.09 534.09,1522.90 534.60,1521.70 534.94,1520.51 535.10,1519.32 535.06,1518.13 534.82,1516.94 534.40,1515.74 533.81,1514.55 533.08,1513.36 532.25,1512.17 531.34,1510.98 530.41,1509.78 529.47,1508.59 528.56,1507.40 527.71,1506.21 526.93,1505.02 526.24,1503.82 525.65,1502.63 525.15,1501.44 524.73,1500.25 524.39,1499.06 524.12,1497.86 523.89,1496.67 523.69,1495.48 523.51,1494.29 523.34,1493.10 523.16,1491.90 522.98,1490.71 522.77,1489.52 522.55,1488.33 522.32,1487.14 522.07,1485.94 521.82,1484.75 521.56,1483.56 521.31,1482.37 521.07,1481.18 520.84,1479.98 520.63,1478.79 520.44,1477.60 520.27,1476.41 520.13,1475.22 520.01,1474.02 519.92,1472.83 519.84,1471.64 519.79,1470.45 519.76,1469.26 519.74,1468.06 519.74,1466.87 519.74,1465.68 519.76,1464.49 519.78,1463.30 519.80,1462.10 519.82,1460.91 519.85,1459.72 519.87,1458.53 519.88,1457.34 519.90,1456.14 519.90,1454.95 519.90,1453.76 519.89,1452.57 519.88,1451.38 519.86,1450.18 519.83,1448.99 519.80,1447.80 519.77,1446.61 519.73,1445.42 519.70,1444.22 519.66,1443.03 519.63,1441.84 519.59,1440.65 519.56,1439.46 519.54,1438.26 519.51,1437.07 519.49,1435.88 519.47,1434.69 519.46,1433.50 519.44,1432.30 519.43,1431.11 519.42,1429.92 519.42,1428.73 519.41,1427.54 519.41,1426.34 519.41,1425.15 519.40,1423.96Z" fill="#62bee2" stroke="#2e2a29" stroke-width="4.6" stroke-linejoin="round"/>
<line x1="519.4" y1="1481.7" x2="519.4" y2="1718.0" stroke="#da291c" stroke-width="4.5"/>
<circle cx="519.4" cy="1600.0" r="10.5" fill="#da291c"/>
<line x1="217.0" y1="1751.2" x2="217.0" y2="1759.8" stroke="#332e2d" stroke-width="4.1"/>
<line x1="317.3" y1="1751.2" x2="317.3" y2="1759.8" stroke="#332e2d" stroke-width="4.1"/>
<line x1="214.2" y1="1751.2" x2="319.3" y2="1751.2" stroke="#000" stroke-width="4.4"/>
<line x1="417.5" y1="1751.2" x2="417.5" y2="1759.8" stroke="#332e2d" stroke-width="4.1"/>
<line x1="518.5" y1="1751.2" x2="518.5" y2="1759.8" stroke="#332e2d" stroke-width="4.1"/>
<line x1="414.7" y1="1751.2" x2="520.5" y2="1751.2" stroke="#000" stroke-width="4.4"/>
<text x="206.1" y="1795.7" font-size="33">FD</text>
<text x="282.0" y="1795.7" font-size="33">CD</text>
<text x="404.7" y="1795.7" font-size="33">FD</text>
<text x="484.5" y="1795.7" font-size="33">CD</text>
<text x="308.0" y="1856.5" font-size="41" font-weight="bold">Heads</text>
<text x="599.0" y="1459" font-size="33" font-style="italic">w<tspan font-size="19" dy="-11" dx="1" letter-spacing="0.35">1118</tspan></text>
<rect x="621.45" y="1475.15" width="52.2" height="24.9" fill="#c4c3c3" stroke="#2e2a29" stroke-width="4.3"/>
<text x="594.5" y="1540.6" font-size="33" font-style="italic">5-HT2A<tspan font-size="23" dy="-14">-/-</tspan></text>
<rect x="621.45" y="1555.35" width="52.2" height="24.7" fill="#62bee2" stroke="#2e2a29" stroke-width="4.3"/>
<g font-size="33" font-style="italic" fill="#da291c"><text x="219.0" y="1277.8">P(Diet)</text><text x="330.3" y="1277.8">&lt;</text><text x="361.0" y="1277.8">0.001</text></g>
<g font-size="33" font-style="italic" fill="#da291c"><text x="219.0" y="1310.8">P(Diet:Genotype)</text><text x="483.8" y="1310.8">&lt;</text><text x="514.4" y="1310.8">0.001</text></g>
<line x1="921.8" y1="1320" x2="921.8" y2="1742.5" stroke="#000" stroke-width="4"/>
<line x1="914.1" y1="1660.0" x2="921.8" y2="1660.0" stroke="#333" stroke-width="4.2"/>
<text x="908.3" y="1668.0" text-anchor="end" font-size="22" fill="#4d4d4d">0</text>
<line x1="914.1" y1="1559.7" x2="921.8" y2="1559.7" stroke="#333" stroke-width="4.2"/>
<text x="908.3" y="1567.7" text-anchor="end" font-size="22" fill="#4d4d4d">1</text>
<line x1="914.1" y1="1459.4" x2="921.8" y2="1459.4" stroke="#333" stroke-width="4.2"/>
<text x="908.3" y="1467.4" text-anchor="end" font-size="22" fill="#4d4d4d">2</text>
<line x1="914.1" y1="1359.1" x2="921.8" y2="1359.1" stroke="#333" stroke-width="4.2"/>
<text x="908.3" y="1367.1" text-anchor="end" font-size="22" fill="#4d4d4d">3</text>
<text transform="translate(882.5,1531) rotate(-90)" text-anchor="middle" font-size="29">Log2(Shortest Distance)</text>
<path d="M982.20,1341.85 982.19,1343.34 982.19,1344.83 982.19,1346.33 982.18,1347.82 982.18,1349.31 982.17,1350.80 982.17,1352.30 982.16,1353.79 982.14,1355.28 982.13,1356.77 982.12,1358.26 982.10,1359.76 982.08,1361.25 982.05,1362.74 982.03,1364.23 982.00,1365.73 981.98,1367.22 981.95,1368.71 981.92,1370.20 981.89,1371.70 981.85,1373.19 981.82,1374.68 981.79,1376.17 981.75,1377.67 981.72,1379.16 981.68,1380.65 981.64,1382.14 981.60,1383.64 981.56,1385.13 981.52,1386.62 981.47,1388.11 981.42,1389.60 981.37,1391.10 981.32,1392.59 981.27,1394.08 981.22,1395.57 981.16,1397.07 981.10,1398.56 981.03,1400.05 980.96,1401.54 980.88,1403.04 980.79,1404.53 980.69,1406.02 980.57,1407.51 980.45,1409.01 980.31,1410.50 980.15,1411.99 979.99,1413.48 979.82,1414.98 979.65,1416.47 979.48,1417.96 979.31,1419.45 979.16,1420.94 979.03,1422.44 978.91,1423.93 978.81,1425.42 978.73,1426.91 978.67,1428.41 978.63,1429.90 978.58,1431.39 978.54,1432.88 978.48,1434.38 978.40,1435.87 978.28,1437.36 978.13,1438.85 977.93,1440.35 977.68,1441.84 977.38,1443.33 977.04,1444.82 976.66,1446.32 976.25,1447.81 975.84,1449.30 975.43,1450.79 975.05,1452.28 974.72,1453.78 974.45,1455.27 974.25,1456.76 974.15,1458.25 974.13,1459.75 974.21,1461.24 974.38,1462.73 974.62,1464.22 974.93,1465.72 975.28,1467.21 975.64,1468.70 976.00,1470.19 976.33,1471.69 976.60,1473.18 976.78,1474.67 976.85,1476.16 976.81,1477.66 976.62,1479.15 976.29,1480.64 975.82,1482.13 975.22,1483.62 974.49,1485.12 973.66,1486.61 972.75,1488.10 971.80,1489.59 970.85,1491.09 969.93,1492.58 969.08,1494.07 968.34,1495.56 967.75,1497.06 967.33,1498.55 967.11,1500.04 967.08,1501.53 967.27,1503.03 967.66,1504.52 968.24,1506.01 968.98,1507.50 969.85,1509.00 970.83,1510.49 971.87,1511.98 972.95,1513.47 974.02,1514.96 975.06,1516.46 976.04,1517.95 976.94,1519.44 977.73,1520.93 978.42,1522.43 978.97,1523.92 979.40,1525.41 979.69,1526.90 979.83,1528.40 979.83,1529.89 979.68,1531.38 979.37,1532.87 978.90,1534.37 978.27,1535.86 977.48,1537.35 976.53,1538.84 975.42,1540.33 974.16,1541.83 972.78,1543.32 971.30,1544.81 969.75,1546.30 968.17,1547.80 966.61,1549.29 965.11,1550.78 963.74,1552.27 962.53,1553.77 961.54,1555.26 960.80,1556.75 960.35,1558.24 960.20,1559.74 960.36,1561.23 960.83,1562.72 961.58,1564.21 962.58,1565.71 963.80,1567.20 965.19,1568.69 966.69,1570.18 968.26,1571.67 969.84,1573.17 971.40,1574.66 972.90,1576.15 974.30,1577.64 975.59,1579.14 976.74,1580.63 977.75,1582.12 978.63,1583.61 979.38,1585.11 980.00,1586.60 980.51,1588.09 980.92,1589.58 981.24,1591.08 981.49,1592.57 981.69,1594.06 981.83,1595.55 981.94,1597.05 982.02,1598.54 982.08,1600.03 982.12,1601.52 982.14,1603.01 982.16,1604.51 982.17,1606.00 982.18,1607.49 982.18,1608.98 982.18,1610.48 982.18,1611.97 982.17,1613.46 982.16,1614.95 982.14,1616.45 982.11,1617.94 982.07,1619.43 982.01,1620.92 981.92,1622.42 981.80,1623.91 981.65,1625.40 981.43,1626.89 981.16,1628.39 980.81,1629.88 980.36,1631.37 979.80,1632.86 979.11,1634.35 978.29,1635.85 977.32,1637.34 976.19,1638.83 974.90,1640.32 973.47,1641.82 971.89,1643.31 970.21,1644.80 968.45,1646.29 966.65,1647.79 964.86,1649.28 963.13,1650.77 961.53,1652.26 960.12,1653.76 958.93,1655.25 958.03,1656.74 957.45,1658.23 957.21,1659.73 957.32,1661.22 957.78,1662.71 958.57,1664.20 959.65,1665.69 960.99,1667.19 962.53,1668.68 964.21,1670.17 965.98,1671.66 967.79,1673.16 969.57,1674.65 971.29,1676.14 972.90,1677.63 974.39,1679.13 975.73,1680.62 976.92,1682.11 977.95,1683.60 978.83,1685.10 979.56,1686.59 980.16,1688.08 980.65,1689.57 981.04,1691.07 981.34,1692.56 981.57,1694.05 981.75,1695.54 981.88,1697.03 981.98,1698.53 982.05,1700.02 982.35,1700.02 982.42,1698.53 982.52,1697.03 982.65,1695.54 982.83,1694.05 983.06,1692.56 983.36,1691.07 983.75,1689.57 984.24,1688.08 984.84,1686.59 985.57,1685.10 986.45,1683.60 987.48,1682.11 988.67,1680.62 990.01,1679.13 991.50,1677.63 993.11,1676.14 994.83,1674.65 996.61,1673.16 998.42,1671.66 1000.19,1670.17 1001.87,1668.68 1003.41,1667.19 1004.75,1665.69 1005.83,1664.20 1006.62,1662.71 1007.08,1661.22 1007.19,1659.73 1006.95,1658.23 1006.37,1656.74 1005.47,1655.25 1004.28,1653.76 1002.87,1652.26 1001.27,1650.77 999.54,1649.28 997.75,1647.79 995.95,1646.29 994.19,1644.80 992.51,1643.31 990.93,1641.82 989.50,1640.32 988.21,1638.83 987.08,1637.34 986.11,1635.85 985.29,1634.35 984.60,1632.86 984.04,1631.37 983.59,1629.88 983.24,1628.39 982.97,1626.89 982.75,1625.40 982.60,1623.91 982.48,1622.42 982.39,1620.92 982.33,1619.43 982.29,1617.94 982.26,1616.45 982.24,1614.95 982.23,1613.46 982.22,1611.97 982.22,1610.48 982.22,1608.98 982.22,1607.49 982.23,1606.00 982.24,1604.51 982.26,1603.01 982.28,1601.52 982.32,1600.03 982.38,1598.54 982.46,1597.05 982.57,1595.55 982.71,1594.06 982.91,1592.57 983.16,1591.08 983.48,1589.58 983.89,1588.09 984.40,1586.60 985.02,1585.11 985.77,1583.61 986.65,1582.12 987.66,1580.63 988.81,1579.14 990.10,1577.64 991.50,1576.15 993.00,1574.66 994.56,1573.17 996.14,1571.67 997.71,1570.18 999.21,1568.69 1000.60,1567.20 1001.82,1565.71 1002.82,1564.21 1003.57,1562.72 1004.04,1561.23 1004.20,1559.74 1004.05,1558.24 1003.60,1556.75 1002.86,1555.26 1001.87,1553.77 1000.66,1552.27 999.29,1550.78 997.79,1549.29 996.23,1547.80 994.65,1546.30 993.10,1544.81 991.62,1543.32 990.24,1541.83 988.98,1540.33 987.87,1538.84 986.92,1537.35 986.13,1535.86 985.50,1534.37 985.03,1532.87 984.72,1531.38 984.57,1529.89 984.57,1528.40 984.71,1526.90 985.00,1525.41 985.43,1523.92 985.98,1522.43 986.67,1520.93 987.46,1519.44 988.36,1517.95 989.34,1516.46 990.38,1514.96 991.45,1513.47 992.53,1511.98 993.57,1510.49 994.55,1509.00 995.42,1507.50 996.16,1506.01 996.74,1504.52 997.13,1503.03 997.32,1501.53 997.29,1500.04 997.07,1498.55 996.65,1497.06 996.06,1495.56 995.32,1494.07 994.47,1492.58 993.55,1491.09 992.60,1489.59 991.65,1488.10 990.74,1486.61 989.91,1485.12 989.18,1483.62 988.58,1482.13 988.11,1480.64 987.78,1479.15 987.59,1477.66 987.55,1476.16 987.62,1474.67 987.80,1473.18 988.07,1471.69 988.40,1470.19 988.76,1468.70 989.12,1467.21 989.47,1465.72 989.78,1464.22 990.02,1462.73 990.19,1461.24 990.27,1459.75 990.25,1458.25 990.15,1456.76 989.95,1455.27 989.68,1453.78 989.35,1452.28 988.97,1450.79 988.56,1449.30 988.15,1447.81 987.74,1446.32 987.36,1444.82 987.02,1443.33 986.72,1441.84 986.47,1440.35 986.27,1438.85 986.12,1437.36 986.00,1435.87 985.92,1434.38 985.86,1432.88 985.82,1431.39 985.77,1429.90 985.73,1428.41 985.67,1426.91 985.59,1425.42 985.49,1423.93 985.37,1422.44 985.24,1420.94 985.09,1419.45 984.92,1417.96 984.75,1416.47 984.58,1414.98 984.41,1413.48 984.25,1411.99 984.09,1410.50 983.95,1409.01 983.83,1407.51 983.71,1406.02 983.61,1404.53 983.52,1403.04 983.44,1401.54 983.37,1400.05 983.30,1398.56 983.24,1397.07 983.18,1395.57 983.13,1394.08 983.08,1392.59 983.03,1391.10 982.98,1389.60 982.93,1388.11 982.88,1386.62 982.84,1385.13 982.80,1383.64 982.76,1382.14 982.72,1380.65 982.68,1379.16 982.65,1377.67 982.61,1376.17 982.58,1374.68 982.55,1373.19 982.51,1371.70 982.48,1370.20 982.45,1368.71 982.42,1367.22 982.40,1365.73 982.37,1364.23 982.35,1362.74 982.32,1361.25 982.30,1359.76 982.28,1358.26 982.27,1356.77 982.26,1355.28 982.24,1353.79 982.23,1352.30 982.23,1350.80 982.22,1349.31 982.22,1347.82 982.21,1346.33 982.21,1344.83 982.21,1343.34 982.20,1341.85Z" fill="#c4c3c3" stroke="#2e2a29" stroke-width="4.6" stroke-linejoin="round"/>
<line x1="982.2" y1="1405.4" x2="982.2" y2="1722.0" stroke="#da291c" stroke-width="4.5"/>
<circle cx="982.2" cy="1564.8" r="10.5" fill="#da291c"/>
<path d="M1082.70,1338.64 1082.70,1340.11 1082.70,1341.58 1082.70,1343.06 1082.70,1344.53 1082.70,1346.00 1082.70,1347.47 1082.70,1348.95 1082.70,1350.42 1082.70,1351.89 1082.70,1353.36 1082.70,1354.83 1082.69,1356.31 1082.69,1357.78 1082.68,1359.25 1082.67,1360.72 1082.66,1362.20 1082.64,1363.67 1082.62,1365.14 1082.60,1366.61 1082.57,1368.09 1082.54,1369.56 1082.50,1371.03 1082.47,1372.50 1082.44,1373.97 1082.41,1375.45 1082.38,1376.92 1082.36,1378.39 1082.34,1379.86 1082.32,1381.34 1082.28,1382.81 1082.24,1384.28 1082.17,1385.75 1082.07,1387.23 1081.95,1388.70 1081.80,1390.17 1081.62,1391.64 1081.43,1393.11 1081.24,1394.59 1081.07,1396.06 1080.92,1397.53 1080.82,1399.00 1080.78,1400.48 1080.79,1401.95 1080.85,1403.42 1080.95,1404.89 1081.07,1406.37 1081.19,1407.84 1081.28,1409.31 1081.32,1410.78 1081.28,1412.25 1081.17,1413.73 1080.96,1415.20 1080.68,1416.67 1080.32,1418.14 1079.93,1419.62 1079.53,1421.09 1079.16,1422.56 1078.86,1424.03 1078.66,1425.51 1078.59,1426.98 1078.64,1428.45 1078.82,1429.92 1079.11,1431.39 1079.46,1432.87 1079.84,1434.34 1080.20,1435.81 1080.49,1437.28 1080.66,1438.76 1080.65,1440.23 1080.44,1441.70 1079.97,1443.17 1079.23,1444.65 1078.18,1446.12 1076.85,1447.59 1075.28,1449.06 1073.52,1450.54 1071.68,1452.01 1069.88,1453.48 1068.28,1454.95 1067.01,1456.42 1066.19,1457.90 1065.90,1459.37 1066.17,1460.84 1066.97,1462.31 1068.23,1463.79 1069.83,1465.26 1071.63,1466.73 1073.49,1468.20 1075.28,1469.68 1076.92,1471.15 1078.31,1472.62 1079.44,1474.09 1080.28,1475.56 1080.82,1477.04 1081.07,1478.51 1081.02,1479.98 1080.63,1481.45 1079.88,1482.93 1078.72,1484.40 1077.09,1485.87 1074.95,1487.34 1072.32,1488.82 1069.22,1490.29 1065.76,1491.76 1062.11,1493.23 1058.51,1494.70 1055.21,1496.18 1052.50,1497.65 1050.62,1499.12 1049.75,1500.59 1049.98,1502.07 1051.28,1503.54 1053.52,1505.01 1056.51,1506.48 1059.97,1507.96 1063.62,1509.43 1067.22,1510.90 1070.55,1512.37 1073.48,1513.84 1075.94,1515.32 1077.91,1516.79 1079.41,1518.26 1080.52,1519.73 1081.30,1521.21 1081.83,1522.68 1082.18,1524.15 1082.39,1525.62 1082.52,1527.10 1082.58,1528.57 1082.60,1530.04 1082.58,1531.51 1082.51,1532.99 1082.36,1534.46 1082.12,1535.93 1081.72,1537.40 1081.10,1538.87 1080.16,1540.35 1078.82,1541.82 1076.95,1543.29 1074.48,1544.76 1071.32,1546.24 1067.48,1547.71 1063.01,1549.18 1058.07,1550.65 1052.92,1552.13 1047.88,1553.60 1043.33,1555.07 1039.66,1556.54 1037.21,1558.01 1036.22,1559.49 1036.77,1560.96 1038.82,1562.43 1042.16,1563.90 1046.49,1565.38 1051.43,1566.85 1056.59,1568.32 1061.62,1569.79 1066.24,1571.27 1070.28,1572.74 1073.64,1574.21 1076.30,1575.68 1078.34,1577.15 1079.82,1578.63 1080.86,1580.10 1081.57,1581.57 1082.02,1583.04 1082.31,1584.52 1082.48,1585.99 1082.58,1587.46 1082.64,1588.93 1082.67,1590.41 1082.69,1591.88 1082.69,1593.35 1082.70,1594.82 1082.70,1596.29 1082.70,1597.77 1082.70,1599.24 1082.70,1600.71 1082.70,1602.18 1082.70,1603.66 1082.70,1605.13 1082.70,1606.60 1082.70,1608.07 1082.70,1609.55 1082.70,1611.02 1082.70,1612.49 1082.70,1613.96 1082.70,1615.44 1082.70,1616.91 1082.70,1618.38 1082.70,1619.85 1082.70,1621.32 1082.70,1622.80 1082.70,1624.27 1082.70,1625.74 1082.69,1627.21 1082.68,1628.69 1082.67,1630.16 1082.64,1631.63 1082.59,1633.10 1082.50,1634.58 1082.34,1636.05 1082.09,1637.52 1081.70,1638.99 1081.12,1640.46 1080.26,1641.94 1079.08,1643.41 1077.50,1644.88 1075.47,1646.35 1072.99,1647.83 1070.08,1649.30 1066.86,1650.77 1063.46,1652.24 1060.11,1653.72 1057.05,1655.19 1054.55,1656.66 1052.82,1658.13 1052.04,1659.60 1052.28,1661.08 1053.51,1662.55 1055.62,1664.02 1058.41,1665.49 1061.64,1666.97 1065.04,1668.44 1068.38,1669.91 1071.48,1671.38 1074.19,1672.86 1076.47,1674.33 1078.28,1675.80 1079.67,1677.27 1080.70,1678.74 1081.42,1680.22 1081.90,1681.69 1082.22,1683.16 1082.42,1684.63 1082.55,1686.11 1082.62,1687.58 1082.66,1689.05 1082.68,1690.52 1082.69,1692.00 1082.71,1692.00 1082.72,1690.52 1082.74,1689.05 1082.78,1687.58 1082.85,1686.11 1082.98,1684.63 1083.18,1683.16 1083.50,1681.69 1083.98,1680.22 1084.70,1678.74 1085.73,1677.27 1087.12,1675.80 1088.93,1674.33 1091.21,1672.86 1093.92,1671.38 1097.02,1669.91 1100.36,1668.44 1103.76,1666.97 1106.99,1665.49 1109.78,1664.02 1111.89,1662.55 1113.12,1661.08 1113.36,1659.60 1112.58,1658.13 1110.85,1656.66 1108.35,1655.19 1105.29,1653.72 1101.94,1652.24 1098.54,1650.77 1095.32,1649.30 1092.41,1647.83 1089.93,1646.35 1087.90,1644.88 1086.32,1643.41 1085.14,1641.94 1084.28,1640.46 1083.70,1638.99 1083.31,1637.52 1083.06,1636.05 1082.90,1634.58 1082.81,1633.10 1082.76,1631.63 1082.73,1630.16 1082.72,1628.69 1082.71,1627.21 1082.70,1625.74 1082.70,1624.27 1082.70,1622.80 1082.70,1621.32 1082.70,1619.85 1082.70,1618.38 1082.70,1616.91 1082.70,1615.44 1082.70,1613.96 1082.70,1612.49 1082.70,1611.02 1082.70,1609.55 1082.70,1608.07 1082.70,1606.60 1082.70,1605.13 1082.70,1603.66 1082.70,1602.18 1082.70,1600.71 1082.70,1599.24 1082.70,1597.77 1082.70,1596.29 1082.70,1594.82 1082.71,1593.35 1082.71,1591.88 1082.73,1590.41 1082.76,1588.93 1082.82,1587.46 1082.92,1585.99 1083.09,1584.52 1083.38,1583.04 1083.83,1581.57 1084.54,1580.10 1085.58,1578.63 1087.06,1577.15 1089.10,1575.68 1091.76,1574.21 1095.12,1572.74 1099.16,1571.27 1103.78,1569.79 1108.81,1568.32 1113.97,1566.85 1118.91,1565.38 1123.24,1563.90 1126.58,1562.43 1128.63,1560.96 1129.18,1559.49 1128.19,1558.01 1125.74,1556.54 1122.07,1555.07 1117.52,1553.60 1112.48,1552.13 1107.33,1550.65 1102.39,1549.18 1097.92,1547.71 1094.08,1546.24 1090.92,1544.76 1088.45,1543.29 1086.58,1541.82 1085.24,1540.35 1084.30,1538.87 1083.68,1537.40 1083.28,1535.93 1083.04,1534.46 1082.89,1532.99 1082.82,1531.51 1082.80,1530.04 1082.82,1528.57 1082.88,1527.10 1083.01,1525.62 1083.22,1524.15 1083.57,1522.68 1084.10,1521.21 1084.88,1519.73 1085.99,1518.26 1087.49,1516.79 1089.46,1515.32 1091.92,1513.84 1094.85,1512.37 1098.18,1510.90 1101.78,1509.43 1105.43,1507.96 1108.89,1506.48 1111.88,1505.01 1114.12,1503.54 1115.42,1502.07 1115.65,1500.59 1114.78,1499.12 1112.90,1497.65 1110.19,1496.18 1106.89,1494.70 1103.29,1493.23 1099.64,1491.76 1096.18,1490.29 1093.08,1488.82 1090.45,1487.34 1088.31,1485.87 1086.68,1484.40 1085.52,1482.93 1084.77,1481.45 1084.38,1479.98 1084.33,1478.51 1084.58,1477.04 1085.12,1475.56 1085.96,1474.09 1087.09,1472.62 1088.48,1471.15 1090.12,1469.68 1091.91,1468.20 1093.77,1466.73 1095.57,1465.26 1097.17,1463.79 1098.43,1462.31 1099.23,1460.84 1099.50,1459.37 1099.21,1457.90 1098.39,1456.42 1097.12,1454.95 1095.52,1453.48 1093.72,1452.01 1091.88,1450.54 1090.12,1449.06 1088.55,1447.59 1087.22,1446.12 1086.17,1444.65 1085.43,1443.17 1084.96,1441.70 1084.75,1440.23 1084.74,1438.76 1084.91,1437.28 1085.20,1435.81 1085.56,1434.34 1085.94,1432.87 1086.29,1431.39 1086.58,1429.92 1086.76,1428.45 1086.81,1426.98 1086.74,1425.51 1086.54,1424.03 1086.24,1422.56 1085.87,1421.09 1085.47,1419.62 1085.08,1418.14 1084.72,1416.67 1084.44,1415.20 1084.23,1413.73 1084.12,1412.25 1084.08,1410.78 1084.12,1409.31 1084.21,1407.84 1084.33,1406.37 1084.45,1404.89 1084.55,1403.42 1084.61,1401.95 1084.62,1400.48 1084.58,1399.00 1084.48,1397.53 1084.33,1396.06 1084.16,1394.59 1083.97,1393.11 1083.78,1391.64 1083.60,1390.17 1083.45,1388.70 1083.33,1387.23 1083.23,1385.75 1083.16,1384.28 1083.12,1382.81 1083.08,1381.34 1083.06,1379.86 1083.04,1378.39 1083.02,1376.92 1082.99,1375.45 1082.96,1373.97 1082.93,1372.50 1082.90,1371.03 1082.86,1369.56 1082.83,1368.09 1082.80,1366.61 1082.78,1365.14 1082.76,1363.67 1082.74,1362.20 1082.73,1360.72 1082.72,1359.25 1082.71,1357.78 1082.71,1356.31 1082.70,1354.83 1082.70,1353.36 1082.70,1351.89 1082.70,1350.42 1082.70,1348.95 1082.70,1347.47 1082.70,1346.00 1082.70,1344.53 1082.70,1343.06 1082.70,1341.58 1082.70,1340.11 1082.70,1338.64Z" fill="#c4c3c3" stroke="#2e2a29" stroke-width="4.6" stroke-linejoin="round"/>
<line x1="1082.7" y1="1404.3" x2="1082.7" y2="1695.0" stroke="#da291c" stroke-width="4.5"/>
<circle cx="1082.7" cy="1549.7" r="10.5" fill="#da291c"/>
<path d="M1183.39,1396.71 1183.39,1397.96 1183.39,1399.20 1183.39,1400.44 1183.38,1401.68 1183.37,1402.93 1183.36,1404.17 1183.35,1405.41 1183.34,1406.66 1183.32,1407.90 1183.30,1409.14 1183.28,1410.38 1183.25,1411.63 1183.22,1412.87 1183.18,1414.11 1183.15,1415.36 1183.11,1416.60 1183.07,1417.84 1183.04,1419.08 1183.00,1420.33 1182.97,1421.57 1182.94,1422.81 1182.92,1424.06 1182.90,1425.30 1182.89,1426.54 1182.89,1427.78 1182.89,1429.03 1182.90,1430.27 1182.91,1431.51 1182.93,1432.76 1182.94,1434.00 1182.96,1435.24 1182.97,1436.48 1182.97,1437.73 1182.96,1438.97 1182.95,1440.21 1182.92,1441.46 1182.88,1442.70 1182.82,1443.94 1182.75,1445.18 1182.67,1446.43 1182.58,1447.67 1182.48,1448.91 1182.38,1450.16 1182.28,1451.40 1182.18,1452.64 1182.10,1453.89 1182.02,1455.13 1181.96,1456.37 1181.92,1457.61 1181.90,1458.86 1181.90,1460.10 1181.92,1461.34 1181.96,1462.59 1182.02,1463.83 1182.09,1465.07 1182.17,1466.31 1182.26,1467.56 1182.33,1468.80 1182.40,1470.04 1182.44,1471.29 1182.46,1472.53 1182.43,1473.77 1182.36,1475.01 1182.22,1476.26 1182.01,1477.50 1181.71,1478.74 1181.31,1479.99 1180.81,1481.23 1180.19,1482.47 1179.44,1483.71 1178.58,1484.96 1177.59,1486.20 1176.50,1487.44 1175.31,1488.69 1174.06,1489.93 1172.78,1491.17 1171.50,1492.41 1170.27,1493.66 1169.13,1494.90 1168.12,1496.14 1167.30,1497.39 1166.68,1498.63 1166.31,1499.87 1166.20,1501.11 1166.35,1502.36 1166.76,1503.60 1167.40,1504.84 1168.25,1506.09 1169.28,1507.33 1170.44,1508.57 1171.68,1509.81 1172.97,1511.06 1174.25,1512.30 1175.50,1513.54 1176.68,1514.79 1177.78,1516.03 1178.76,1517.27 1179.63,1518.52 1180.38,1519.76 1181.01,1521.00 1181.53,1522.24 1181.94,1523.49 1182.26,1524.73 1182.49,1525.97 1182.63,1527.22 1182.70,1528.46 1182.68,1529.70 1182.58,1530.94 1182.39,1532.19 1182.09,1533.43 1181.67,1534.67 1181.11,1535.92 1180.37,1537.16 1179.45,1538.40 1178.31,1539.64 1176.94,1540.89 1175.31,1542.13 1173.43,1543.37 1171.30,1544.62 1168.93,1545.86 1166.36,1547.10 1163.64,1548.34 1160.84,1549.59 1158.04,1550.83 1155.32,1552.07 1152.78,1553.32 1150.52,1554.56 1148.63,1555.80 1147.19,1557.04 1146.27,1558.29 1145.91,1559.53 1146.11,1560.77 1146.89,1562.02 1148.19,1563.26 1149.96,1564.50 1152.13,1565.74 1154.60,1566.99 1157.28,1568.23 1160.07,1569.47 1162.88,1570.72 1165.63,1571.96 1168.25,1573.20 1170.67,1574.44 1172.87,1575.69 1174.83,1576.93 1176.52,1578.17 1177.97,1579.42 1179.18,1580.66 1180.16,1581.90 1180.96,1583.15 1181.59,1584.39 1182.07,1585.63 1182.44,1586.87 1182.72,1588.12 1182.93,1589.36 1183.07,1590.60 1183.18,1591.85 1183.25,1593.09 1183.30,1594.33 1183.34,1595.57 1183.36,1596.82 1183.38,1598.06 1183.38,1599.30 1183.39,1600.55 1183.39,1601.79 1183.40,1603.03 1183.40,1604.27 1183.40,1605.52 1183.40,1606.76 1183.40,1608.00 1183.40,1609.25 1183.40,1610.49 1183.40,1611.73 1183.40,1612.97 1183.40,1614.22 1183.40,1615.46 1183.40,1616.70 1183.39,1617.95 1183.39,1619.19 1183.39,1620.43 1183.38,1621.67 1183.36,1622.92 1183.34,1624.16 1183.31,1625.40 1183.27,1626.65 1183.20,1627.89 1183.11,1629.13 1182.97,1630.37 1182.79,1631.62 1182.54,1632.86 1182.20,1634.10 1181.77,1635.35 1181.20,1636.59 1180.49,1637.83 1179.60,1639.07 1178.51,1640.32 1177.22,1641.56 1175.70,1642.80 1173.94,1644.05 1171.97,1645.29 1169.80,1646.53 1167.46,1647.78 1165.00,1649.02 1162.49,1650.26 1160.00,1651.50 1157.61,1652.75 1155.41,1653.99 1153.48,1655.23 1151.91,1656.48 1150.76,1657.72 1150.08,1658.96 1149.91,1660.20 1150.25,1661.45 1151.08,1662.69 1152.38,1663.93 1154.08,1665.18 1156.10,1666.42 1158.38,1667.66 1160.81,1668.90 1163.32,1670.15 1165.82,1671.39 1168.24,1672.63 1170.53,1673.88 1172.64,1675.12 1174.54,1676.36 1176.22,1677.60 1177.67,1678.85 1178.89,1680.09 1179.91,1681.33 1180.74,1682.58 1181.40,1683.82 1181.92,1685.06 1182.32,1686.30 1182.63,1687.55 1182.86,1688.79 1183.02,1690.03 1183.14,1691.28 1183.23,1692.52 1183.28,1693.76 1183.32,1695.00 1183.48,1695.00 1183.52,1693.76 1183.57,1692.52 1183.66,1691.28 1183.78,1690.03 1183.94,1688.79 1184.17,1687.55 1184.48,1686.30 1184.88,1685.06 1185.40,1683.82 1186.06,1682.58 1186.89,1681.33 1187.91,1680.09 1189.13,1678.85 1190.58,1677.60 1192.26,1676.36 1194.16,1675.12 1196.27,1673.88 1198.56,1672.63 1200.98,1671.39 1203.48,1670.15 1205.99,1668.90 1208.42,1667.66 1210.70,1666.42 1212.72,1665.18 1214.42,1663.93 1215.72,1662.69 1216.55,1661.45 1216.89,1660.20 1216.72,1658.96 1216.04,1657.72 1214.89,1656.48 1213.32,1655.23 1211.39,1653.99 1209.19,1652.75 1206.80,1651.50 1204.31,1650.26 1201.80,1649.02 1199.34,1647.78 1197.00,1646.53 1194.83,1645.29 1192.86,1644.05 1191.10,1642.80 1189.58,1641.56 1188.29,1640.32 1187.20,1639.07 1186.31,1637.83 1185.60,1636.59 1185.03,1635.35 1184.60,1634.10 1184.26,1632.86 1184.01,1631.62 1183.83,1630.37 1183.69,1629.13 1183.60,1627.89 1183.53,1626.65 1183.49,1625.40 1183.46,1624.16 1183.44,1622.92 1183.42,1621.67 1183.41,1620.43 1183.41,1619.19 1183.41,1617.95 1183.40,1616.70 1183.40,1615.46 1183.40,1614.22 1183.40,1612.97 1183.40,1611.73 1183.40,1610.49 1183.40,1609.25 1183.40,1608.00 1183.40,1606.76 1183.40,1605.52 1183.40,1604.27 1183.40,1603.03 1183.41,1601.79 1183.41,1600.55 1183.42,1599.30 1183.42,1598.06 1183.44,1596.82 1183.46,1595.57 1183.50,1594.33 1183.55,1593.09 1183.62,1591.85 1183.73,1590.60 1183.87,1589.36 1184.08,1588.12 1184.36,1586.87 1184.73,1585.63 1185.21,1584.39 1185.84,1583.15 1186.64,1581.90 1187.62,1580.66 1188.83,1579.42 1190.28,1578.17 1191.97,1576.93 1193.93,1575.69 1196.13,1574.44 1198.55,1573.20 1201.17,1571.96 1203.92,1570.72 1206.73,1569.47 1209.52,1568.23 1212.20,1566.99 1214.67,1565.74 1216.84,1564.50 1218.61,1563.26 1219.91,1562.02 1220.69,1560.77 1220.89,1559.53 1220.53,1558.29 1219.61,1557.04 1218.17,1555.80 1216.28,1554.56 1214.02,1553.32 1211.48,1552.07 1208.76,1550.83 1205.96,1549.59 1203.16,1548.34 1200.44,1547.10 1197.87,1545.86 1195.50,1544.62 1193.37,1543.37 1191.49,1542.13 1189.86,1540.89 1188.49,1539.64 1187.35,1538.40 1186.43,1537.16 1185.69,1535.92 1185.13,1534.67 1184.71,1533.43 1184.41,1532.19 1184.22,1530.94 1184.12,1529.70 1184.10,1528.46 1184.17,1527.22 1184.31,1525.97 1184.54,1524.73 1184.86,1523.49 1185.27,1522.24 1185.79,1521.00 1186.42,1519.76 1187.17,1518.52 1188.04,1517.27 1189.02,1516.03 1190.12,1514.79 1191.30,1513.54 1192.55,1512.30 1193.83,1511.06 1195.12,1509.81 1196.36,1508.57 1197.52,1507.33 1198.55,1506.09 1199.40,1504.84 1200.04,1503.60 1200.45,1502.36 1200.60,1501.11 1200.49,1499.87 1200.12,1498.63 1199.50,1497.39 1198.68,1496.14 1197.67,1494.90 1196.53,1493.66 1195.30,1492.41 1194.02,1491.17 1192.74,1489.93 1191.49,1488.69 1190.30,1487.44 1189.21,1486.20 1188.22,1484.96 1187.36,1483.71 1186.61,1482.47 1185.99,1481.23 1185.49,1479.99 1185.09,1478.74 1184.79,1477.50 1184.58,1476.26 1184.44,1475.01 1184.37,1473.77 1184.34,1472.53 1184.36,1471.29 1184.40,1470.04 1184.47,1468.80 1184.54,1467.56 1184.63,1466.31 1184.71,1465.07 1184.78,1463.83 1184.84,1462.59 1184.88,1461.34 1184.90,1460.10 1184.90,1458.86 1184.88,1457.61 1184.84,1456.37 1184.78,1455.13 1184.70,1453.89 1184.62,1452.64 1184.52,1451.40 1184.42,1450.16 1184.32,1448.91 1184.22,1447.67 1184.13,1446.43 1184.05,1445.18 1183.98,1443.94 1183.92,1442.70 1183.88,1441.46 1183.85,1440.21 1183.84,1438.97 1183.83,1437.73 1183.83,1436.48 1183.84,1435.24 1183.86,1434.00 1183.87,1432.76 1183.89,1431.51 1183.90,1430.27 1183.91,1429.03 1183.91,1427.78 1183.91,1426.54 1183.90,1425.30 1183.88,1424.06 1183.86,1422.81 1183.83,1421.57 1183.80,1420.33 1183.76,1419.08 1183.73,1417.84 1183.69,1416.60 1183.65,1415.36 1183.62,1414.11 1183.58,1412.87 1183.55,1411.63 1183.52,1410.38 1183.50,1409.14 1183.48,1407.90 1183.46,1406.66 1183.45,1405.41 1183.44,1404.17 1183.43,1402.93 1183.42,1401.68 1183.41,1400.44 1183.41,1399.20 1183.41,1397.96 1183.41,1396.71Z" fill="#62bee2" stroke="#2e2a29" stroke-width="4.6" stroke-linejoin="round"/>
<line x1="1183.4" y1="1457.0" x2="1183.4" y2="1712.0" stroke="#da291c" stroke-width="4.5"/>
<circle cx="1183.4" cy="1585.1" r="10.5" fill="#da291c"/>
<path d="M1284.30,1343.95 1284.29,1345.40 1284.29,1346.86 1284.28,1348.31 1284.28,1349.76 1284.27,1351.21 1284.25,1352.66 1284.24,1354.11 1284.21,1355.56 1284.19,1357.01 1284.15,1358.46 1284.11,1359.91 1284.06,1361.36 1284.00,1362.81 1283.94,1364.26 1283.87,1365.71 1283.79,1367.16 1283.72,1368.61 1283.64,1370.06 1283.57,1371.51 1283.51,1372.96 1283.46,1374.41 1283.43,1375.86 1283.40,1377.31 1283.40,1378.76 1283.41,1380.21 1283.44,1381.66 1283.48,1383.11 1283.54,1384.56 1283.60,1386.01 1283.68,1387.46 1283.75,1388.91 1283.82,1390.36 1283.89,1391.81 1283.96,1393.26 1284.01,1394.71 1284.06,1396.16 1284.09,1397.61 1284.11,1399.06 1284.12,1400.51 1284.12,1401.96 1284.10,1403.41 1284.06,1404.86 1284.00,1406.31 1283.93,1407.76 1283.84,1409.21 1283.73,1410.66 1283.61,1412.11 1283.47,1413.56 1283.31,1415.01 1283.16,1416.46 1283.00,1417.91 1282.84,1419.36 1282.70,1420.81 1282.58,1422.26 1282.47,1423.71 1282.40,1425.16 1282.35,1426.61 1282.32,1428.06 1282.32,1429.51 1282.34,1430.96 1282.36,1432.42 1282.38,1433.87 1282.38,1435.32 1282.35,1436.77 1282.27,1438.22 1282.14,1439.67 1281.94,1441.12 1281.67,1442.57 1281.33,1444.02 1280.92,1445.47 1280.46,1446.92 1279.95,1448.37 1279.42,1449.82 1278.89,1451.27 1278.40,1452.72 1277.95,1454.17 1277.59,1455.62 1277.34,1457.07 1277.20,1458.52 1277.19,1459.97 1277.30,1461.42 1277.54,1462.87 1277.89,1464.32 1278.32,1465.77 1278.81,1467.22 1279.32,1468.67 1279.83,1470.12 1280.31,1471.57 1280.71,1473.02 1281.02,1474.47 1281.20,1475.92 1281.23,1477.37 1281.10,1478.82 1280.78,1480.27 1280.27,1481.72 1279.56,1483.17 1278.67,1484.62 1277.59,1486.07 1276.37,1487.52 1275.02,1488.97 1273.61,1490.42 1272.18,1491.87 1270.79,1493.32 1269.52,1494.77 1268.42,1496.22 1267.56,1497.67 1266.98,1499.12 1266.71,1500.57 1266.78,1502.02 1267.17,1503.47 1267.86,1504.92 1268.83,1506.37 1270.01,1507.82 1271.35,1509.27 1272.78,1510.72 1274.25,1512.17 1275.69,1513.62 1277.07,1515.07 1278.33,1516.53 1279.47,1517.98 1280.45,1519.43 1281.29,1520.88 1281.97,1522.33 1282.51,1523.78 1282.91,1525.23 1283.19,1526.68 1283.35,1528.13 1283.39,1529.58 1283.32,1531.03 1283.12,1532.48 1282.79,1533.93 1282.30,1535.38 1281.64,1536.83 1280.79,1538.28 1279.73,1539.73 1278.43,1541.18 1276.90,1542.63 1275.14,1544.08 1273.18,1545.53 1271.04,1546.98 1268.79,1548.43 1266.50,1549.88 1264.25,1551.33 1262.14,1552.78 1260.27,1554.23 1258.73,1555.68 1257.61,1557.13 1256.96,1558.58 1256.81,1560.03 1257.19,1561.48 1258.06,1562.93 1259.39,1564.38 1261.09,1565.83 1263.08,1567.28 1265.26,1568.73 1267.54,1570.18 1269.83,1571.63 1272.03,1573.08 1274.10,1574.53 1275.98,1575.98 1277.64,1577.43 1279.06,1578.88 1280.26,1580.33 1281.25,1581.78 1282.03,1583.23 1282.65,1584.68 1283.12,1586.13 1283.47,1587.58 1283.73,1589.03 1283.92,1590.48 1284.05,1591.93 1284.13,1593.38 1284.19,1594.83 1284.23,1596.28 1284.26,1597.73 1284.28,1599.18 1284.29,1600.63 1284.29,1602.09 1284.30,1603.54 1284.30,1604.99 1284.30,1606.44 1284.30,1607.89 1284.30,1609.34 1284.30,1610.79 1284.30,1612.24 1284.30,1613.69 1284.30,1615.14 1284.30,1616.59 1284.29,1618.04 1284.29,1619.49 1284.28,1620.94 1284.26,1622.39 1284.23,1623.84 1284.20,1625.29 1284.14,1626.74 1284.05,1628.19 1283.92,1629.64 1283.75,1631.09 1283.50,1632.54 1283.16,1633.99 1282.72,1635.44 1282.14,1636.89 1281.41,1638.34 1280.49,1639.79 1279.39,1641.24 1278.08,1642.69 1276.58,1644.14 1274.89,1645.59 1273.04,1647.04 1271.09,1648.49 1269.09,1649.94 1267.12,1651.39 1265.25,1652.84 1263.58,1654.29 1262.18,1655.74 1261.14,1657.19 1260.50,1658.64 1260.30,1660.09 1260.56,1661.54 1261.25,1662.99 1262.34,1664.44 1263.78,1665.89 1265.48,1667.34 1267.36,1668.79 1269.34,1670.24 1271.34,1671.69 1273.28,1673.14 1275.11,1674.59 1276.78,1676.04 1278.26,1677.49 1279.54,1678.94 1280.62,1680.39 1281.51,1681.84 1282.22,1683.29 1282.78,1684.74 1283.21,1686.20 1283.53,1687.65 1283.77,1689.10 1283.94,1690.55 1284.06,1692.00 1284.54,1692.00 1284.66,1690.55 1284.83,1689.10 1285.07,1687.65 1285.39,1686.20 1285.82,1684.74 1286.38,1683.29 1287.09,1681.84 1287.98,1680.39 1289.06,1678.94 1290.34,1677.49 1291.82,1676.04 1293.49,1674.59 1295.32,1673.14 1297.26,1671.69 1299.26,1670.24 1301.24,1668.79 1303.12,1667.34 1304.82,1665.89 1306.26,1664.44 1307.35,1662.99 1308.04,1661.54 1308.30,1660.09 1308.10,1658.64 1307.46,1657.19 1306.42,1655.74 1305.02,1654.29 1303.35,1652.84 1301.48,1651.39 1299.51,1649.94 1297.51,1648.49 1295.56,1647.04 1293.71,1645.59 1292.02,1644.14 1290.52,1642.69 1289.21,1641.24 1288.11,1639.79 1287.19,1638.34 1286.46,1636.89 1285.88,1635.44 1285.44,1633.99 1285.10,1632.54 1284.85,1631.09 1284.68,1629.64 1284.55,1628.19 1284.46,1626.74 1284.40,1625.29 1284.37,1623.84 1284.34,1622.39 1284.32,1620.94 1284.31,1619.49 1284.31,1618.04 1284.30,1616.59 1284.30,1615.14 1284.30,1613.69 1284.30,1612.24 1284.30,1610.79 1284.30,1609.34 1284.30,1607.89 1284.30,1606.44 1284.30,1604.99 1284.30,1603.54 1284.31,1602.09 1284.31,1600.63 1284.32,1599.18 1284.34,1597.73 1284.37,1596.28 1284.41,1594.83 1284.47,1593.38 1284.55,1591.93 1284.68,1590.48 1284.87,1589.03 1285.13,1587.58 1285.48,1586.13 1285.95,1584.68 1286.57,1583.23 1287.35,1581.78 1288.34,1580.33 1289.54,1578.88 1290.96,1577.43 1292.62,1575.98 1294.50,1574.53 1296.57,1573.08 1298.77,1571.63 1301.06,1570.18 1303.34,1568.73 1305.52,1567.28 1307.51,1565.83 1309.21,1564.38 1310.54,1562.93 1311.41,1561.48 1311.79,1560.03 1311.64,1558.58 1310.99,1557.13 1309.87,1555.68 1308.33,1554.23 1306.46,1552.78 1304.35,1551.33 1302.10,1549.88 1299.81,1548.43 1297.56,1546.98 1295.42,1545.53 1293.46,1544.08 1291.70,1542.63 1290.17,1541.18 1288.87,1539.73 1287.81,1538.28 1286.96,1536.83 1286.30,1535.38 1285.81,1533.93 1285.48,1532.48 1285.28,1531.03 1285.21,1529.58 1285.25,1528.13 1285.41,1526.68 1285.69,1525.23 1286.09,1523.78 1286.63,1522.33 1287.31,1520.88 1288.15,1519.43 1289.13,1517.98 1290.27,1516.53 1291.53,1515.07 1292.91,1513.62 1294.35,1512.17 1295.82,1510.72 1297.25,1509.27 1298.59,1507.82 1299.77,1506.37 1300.74,1504.92 1301.43,1503.47 1301.82,1502.02 1301.89,1500.57 1301.62,1499.12 1301.04,1497.67 1300.18,1496.22 1299.08,1494.77 1297.81,1493.32 1296.42,1491.87 1294.99,1490.42 1293.58,1488.97 1292.23,1487.52 1291.01,1486.07 1289.93,1484.62 1289.04,1483.17 1288.33,1481.72 1287.82,1480.27 1287.50,1478.82 1287.37,1477.37 1287.40,1475.92 1287.58,1474.47 1287.89,1473.02 1288.29,1471.57 1288.77,1470.12 1289.28,1468.67 1289.79,1467.22 1290.28,1465.77 1290.71,1464.32 1291.06,1462.87 1291.30,1461.42 1291.41,1459.97 1291.40,1458.52 1291.26,1457.07 1291.01,1455.62 1290.65,1454.17 1290.20,1452.72 1289.71,1451.27 1289.18,1449.82 1288.65,1448.37 1288.14,1446.92 1287.68,1445.47 1287.27,1444.02 1286.93,1442.57 1286.66,1441.12 1286.46,1439.67 1286.33,1438.22 1286.25,1436.77 1286.22,1435.32 1286.22,1433.87 1286.24,1432.42 1286.26,1430.96 1286.28,1429.51 1286.28,1428.06 1286.25,1426.61 1286.20,1425.16 1286.13,1423.71 1286.02,1422.26 1285.90,1420.81 1285.76,1419.36 1285.60,1417.91 1285.44,1416.46 1285.29,1415.01 1285.13,1413.56 1284.99,1412.11 1284.87,1410.66 1284.76,1409.21 1284.67,1407.76 1284.60,1406.31 1284.54,1404.86 1284.50,1403.41 1284.48,1401.96 1284.48,1400.51 1284.49,1399.06 1284.51,1397.61 1284.54,1396.16 1284.59,1394.71 1284.64,1393.26 1284.71,1391.81 1284.78,1390.36 1284.85,1388.91 1284.92,1387.46 1285.00,1386.01 1285.06,1384.56 1285.12,1383.11 1285.16,1381.66 1285.19,1380.21 1285.20,1378.76 1285.20,1377.31 1285.17,1375.86 1285.14,1374.41 1285.09,1372.96 1285.03,1371.51 1284.96,1370.06 1284.88,1368.61 1284.81,1367.16 1284.73,1365.71 1284.66,1364.26 1284.60,1362.81 1284.54,1361.36 1284.49,1359.91 1284.45,1358.46 1284.41,1357.01 1284.39,1355.56 1284.36,1354.11 1284.35,1352.66 1284.33,1351.21 1284.32,1349.76 1284.32,1348.31 1284.31,1346.86 1284.31,1345.40 1284.30,1343.95Z" fill="#62bee2" stroke="#2e2a29" stroke-width="4.6" stroke-linejoin="round"/>
<line x1="1284.3" y1="1420.4" x2="1284.3" y2="1710.0" stroke="#da291c" stroke-width="4.5"/>
<circle cx="1284.3" cy="1564.7" r="10.5" fill="#da291c"/>
<line x1="982.2" y1="1751.2" x2="982.2" y2="1759.8" stroke="#332e2d" stroke-width="4.1"/>
<line x1="1082.7" y1="1751.2" x2="1082.7" y2="1759.8" stroke="#332e2d" stroke-width="4.1"/>
<line x1="979.4" y1="1751.2" x2="1084.7" y2="1751.2" stroke="#000" stroke-width="4.4"/>
<line x1="1183.4" y1="1751.2" x2="1183.4" y2="1759.8" stroke="#332e2d" stroke-width="4.1"/>
<line x1="1284.3" y1="1751.2" x2="1284.3" y2="1759.8" stroke="#332e2d" stroke-width="4.1"/>
<line x1="1180.6" y1="1751.2" x2="1286.3" y2="1751.2" stroke="#000" stroke-width="4.4"/>
<text x="974.7" y="1795.7" font-size="33">FD</text>
<text x="1050.4" y="1795.7" font-size="33">CD</text>
<text x="1173.0" y="1795.7" font-size="33">FD</text>
<text x="1253.2" y="1795.7" font-size="33">CD</text>
<text x="1077.8" y="1856.5" font-size="41" font-weight="bold">Bodies</text>
<text x="1368.5" y="1459" font-size="33" font-style="italic">w<tspan font-size="19" dy="-11" dx="1" letter-spacing="0.35">1118</tspan></text>
<rect x="1390.95" y="1475.15" width="52.2" height="24.9" fill="#c4c3c3" stroke="#2e2a29" stroke-width="4.3"/>
<text x="1364.0" y="1540.6" font-size="33" font-style="italic">5-HT2A<tspan font-size="23" dy="-14">-/-</tspan></text>
<rect x="1390.95" y="1555.35" width="52.2" height="24.7" fill="#62bee2" stroke="#2e2a29" stroke-width="4.3"/>
<g font-size="33" font-style="italic" fill="#da291c"><text x="965.2" y="1277.8">P(Diet)</text><text x="1076.5" y="1277.8">&lt;</text><text x="1107.2" y="1277.8">0.001</text></g>
<g font-size="33" font-style="italic" fill="#da291c"><text x="965.2" y="1310.8">P(Diet:Genotype)</text><text x="1230.0" y="1310.8">&lt;</text><text x="1260.6" y="1310.8">0.001</text></g>
</g>
</svg>
</body></html>
